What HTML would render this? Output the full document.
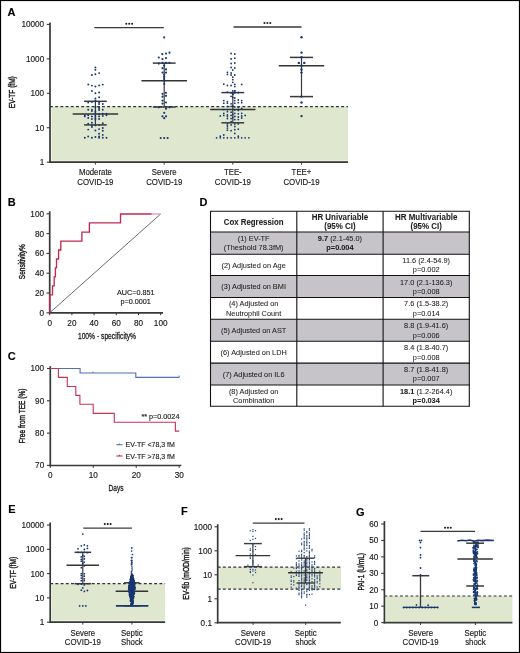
<!DOCTYPE html>
<html><head><meta charset="utf-8"><style>
html,body{margin:0;padding:0;background:#fff;width:520px;height:653px;overflow:hidden}
svg{display:block;font-family:"Liberation Sans", sans-serif;will-change:transform}
text{stroke:#1a1a1a;stroke-width:0.15px}
</style></head><body>
<svg width="520" height="653" viewBox="0 0 520 653" font-family='"Liberation Sans", sans-serif'>
<rect x="0.00" y="0.00" width="520.00" height="653.00" fill="#fff" />
<text x="7.60" y="16.32" font-size="11" text-anchor="start" font-weight="bold" fill="#000" >A</text>
<rect x="50.00" y="106.60" width="298.00" height="55.60" fill="#dfe7cf" />
<line x1="51.30" y1="107.40" x2="51.30" y2="161.20" stroke="#f0f8e0" stroke-width="0.9" />
<line x1="51.00" y1="160.90" x2="348.00" y2="160.90" stroke="#f0f8e0" stroke-width="0.9" />
<line x1="50.00" y1="106.60" x2="348.00" y2="106.60" stroke="#333" stroke-width="1.2" stroke-dasharray="2.9 2.3"/>
<line x1="46.80" y1="24.40" x2="50.00" y2="24.40" stroke="#383838" stroke-width="1.1" />
<text x="44.20" y="27.35" font-size="8.2" text-anchor="end" font-weight="normal" fill="#1a1a1a" >10000</text>
<line x1="46.80" y1="58.85" x2="50.00" y2="58.85" stroke="#383838" stroke-width="1.1" />
<text x="44.20" y="61.80" font-size="8.2" text-anchor="end" font-weight="normal" fill="#1a1a1a" >1000</text>
<line x1="46.80" y1="93.30" x2="50.00" y2="93.30" stroke="#383838" stroke-width="1.1" />
<text x="44.20" y="96.25" font-size="8.2" text-anchor="end" font-weight="normal" fill="#1a1a1a" >100</text>
<line x1="46.80" y1="127.75" x2="50.00" y2="127.75" stroke="#383838" stroke-width="1.1" />
<text x="44.20" y="130.70" font-size="8.2" text-anchor="end" font-weight="normal" fill="#1a1a1a" >10</text>
<line x1="46.80" y1="162.20" x2="50.00" y2="162.20" stroke="#383838" stroke-width="1.1" />
<text x="44.20" y="165.15" font-size="8.2" text-anchor="end" font-weight="normal" fill="#1a1a1a" >1</text>
<line x1="50.00" y1="22.60" x2="50.00" y2="163.00" stroke="#383838" stroke-width="1.7" />
<line x1="49.20" y1="162.20" x2="348.00" y2="162.20" stroke="#383838" stroke-width="1.7" />
<text transform="translate(15.48,92.20) rotate(-90) scale(0.72,1)" font-size="9.1" text-anchor="middle" fill="#1a1a1a" style="stroke-width:0.4px">EV-TF (fM)</text>
<line x1="95.40" y1="162.20" x2="95.40" y2="164.60" stroke="#383838" stroke-width="1.0" />
<line x1="164.20" y1="162.20" x2="164.20" y2="164.60" stroke="#383838" stroke-width="1.0" />
<line x1="232.80" y1="162.20" x2="232.80" y2="164.60" stroke="#383838" stroke-width="1.0" />
<line x1="301.50" y1="162.20" x2="301.50" y2="164.60" stroke="#383838" stroke-width="1.0" />
<text transform="translate(95.40,175.40) scale(0.91,1)" font-size="8.6" text-anchor="middle" font-weight="normal" fill="#1a1a1a">Moderate</text>
<text transform="translate(95.40,184.80) scale(0.91,1)" font-size="8.6" text-anchor="middle" font-weight="normal" fill="#1a1a1a">COVID-19</text>
<text transform="translate(164.20,175.40) scale(0.91,1)" font-size="8.6" text-anchor="middle" font-weight="normal" fill="#1a1a1a">Severe</text>
<text transform="translate(164.20,184.80) scale(0.91,1)" font-size="8.6" text-anchor="middle" font-weight="normal" fill="#1a1a1a">COVID-19</text>
<text transform="translate(232.80,175.40) scale(0.91,1)" font-size="8.6" text-anchor="middle" font-weight="normal" fill="#1a1a1a">TEE-</text>
<text transform="translate(232.80,184.80) scale(0.91,1)" font-size="8.6" text-anchor="middle" font-weight="normal" fill="#1a1a1a">COVID-19</text>
<text transform="translate(301.50,175.40) scale(0.91,1)" font-size="8.6" text-anchor="middle" font-weight="normal" fill="#1a1a1a">TEE+</text>
<text transform="translate(301.50,184.80) scale(0.91,1)" font-size="8.6" text-anchor="middle" font-weight="normal" fill="#1a1a1a">COVID-19</text>
<line x1="95.40" y1="101.30" x2="95.40" y2="124.90" stroke="#3a3a3a" stroke-width="1.2" />
<line x1="84.05" y1="101.30" x2="106.75" y2="101.30" stroke="#3a3a3a" stroke-width="1.5" />
<line x1="84.05" y1="124.90" x2="106.75" y2="124.90" stroke="#3a3a3a" stroke-width="1.5" />
<line x1="72.65" y1="114.10" x2="118.15" y2="114.10" stroke="#333" stroke-width="1.5" />
<line x1="164.20" y1="63.10" x2="164.20" y2="107.00" stroke="#3a3a3a" stroke-width="1.2" />
<line x1="152.80" y1="63.10" x2="175.60" y2="63.10" stroke="#3a3a3a" stroke-width="1.5" />
<line x1="152.80" y1="107.00" x2="175.60" y2="107.00" stroke="#3a3a3a" stroke-width="1.5" />
<line x1="141.45" y1="80.80" x2="186.95" y2="80.80" stroke="#333" stroke-width="1.5" />
<line x1="232.80" y1="92.60" x2="232.80" y2="122.80" stroke="#3a3a3a" stroke-width="1.2" />
<line x1="221.40" y1="92.60" x2="244.20" y2="92.60" stroke="#3a3a3a" stroke-width="1.5" />
<line x1="221.40" y1="122.80" x2="244.20" y2="122.80" stroke="#3a3a3a" stroke-width="1.5" />
<line x1="210.15" y1="109.60" x2="255.45" y2="109.60" stroke="#333" stroke-width="1.5" />
<line x1="301.50" y1="57.40" x2="301.50" y2="96.60" stroke="#3a3a3a" stroke-width="1.2" />
<line x1="290.00" y1="57.40" x2="313.00" y2="57.40" stroke="#3a3a3a" stroke-width="1.5" />
<line x1="290.00" y1="96.60" x2="313.00" y2="96.60" stroke="#3a3a3a" stroke-width="1.5" />
<line x1="278.80" y1="65.80" x2="324.20" y2="65.80" stroke="#333" stroke-width="1.5" />
<circle cx="95.40" cy="67.40" r="0.95" fill="#183670"/>
<circle cx="95.40" cy="69.80" r="0.95" fill="#183670"/>
<circle cx="91.90" cy="75.00" r="0.95" fill="#183670"/>
<circle cx="95.40" cy="74.30" r="0.95" fill="#183670"/>
<circle cx="99.10" cy="73.10" r="0.95" fill="#183670"/>
<circle cx="88.30" cy="84.40" r="0.95" fill="#183670"/>
<circle cx="91.90" cy="85.60" r="0.95" fill="#183670"/>
<circle cx="95.40" cy="86.50" r="0.95" fill="#183670"/>
<circle cx="99.10" cy="85.40" r="0.95" fill="#183670"/>
<circle cx="102.80" cy="84.60" r="0.95" fill="#183670"/>
<circle cx="91.90" cy="91.00" r="0.95" fill="#183670"/>
<circle cx="95.40" cy="93.30" r="0.95" fill="#183670"/>
<circle cx="99.10" cy="92.50" r="0.95" fill="#183670"/>
<circle cx="99.10" cy="97.20" r="0.95" fill="#183670"/>
<circle cx="95.40" cy="98.40" r="0.95" fill="#183670"/>
<circle cx="88.20" cy="102.60" r="0.95" fill="#183670"/>
<circle cx="91.90" cy="102.10" r="0.95" fill="#183670"/>
<circle cx="95.40" cy="100.50" r="0.95" fill="#183670"/>
<circle cx="99.10" cy="102.30" r="0.95" fill="#183670"/>
<circle cx="99.10" cy="104.00" r="0.95" fill="#183670"/>
<circle cx="102.80" cy="104.00" r="0.95" fill="#183670"/>
<circle cx="95.40" cy="106.90" r="0.95" fill="#183670"/>
<circle cx="99.10" cy="106.90" r="0.95" fill="#183670"/>
<circle cx="88.20" cy="109.70" r="0.95" fill="#183670"/>
<circle cx="91.90" cy="109.70" r="0.95" fill="#183670"/>
<circle cx="91.90" cy="111.10" r="0.95" fill="#183670"/>
<circle cx="95.40" cy="111.10" r="0.95" fill="#183670"/>
<circle cx="99.10" cy="108.30" r="0.95" fill="#183670"/>
<circle cx="99.10" cy="110.00" r="0.95" fill="#183670"/>
<circle cx="102.80" cy="109.70" r="0.95" fill="#183670"/>
<circle cx="84.80" cy="115.30" r="0.95" fill="#183670"/>
<circle cx="84.80" cy="116.40" r="0.95" fill="#183670"/>
<circle cx="88.20" cy="115.30" r="0.95" fill="#183670"/>
<circle cx="88.20" cy="118.00" r="0.95" fill="#183670"/>
<circle cx="91.90" cy="116.40" r="0.95" fill="#183670"/>
<circle cx="91.90" cy="119.00" r="0.95" fill="#183670"/>
<circle cx="95.40" cy="113.20" r="0.95" fill="#183670"/>
<circle cx="95.40" cy="115.90" r="0.95" fill="#183670"/>
<circle cx="95.40" cy="118.00" r="0.95" fill="#183670"/>
<circle cx="95.40" cy="119.60" r="0.95" fill="#183670"/>
<circle cx="99.10" cy="114.30" r="0.95" fill="#183670"/>
<circle cx="99.10" cy="116.40" r="0.95" fill="#183670"/>
<circle cx="99.10" cy="119.00" r="0.95" fill="#183670"/>
<circle cx="102.80" cy="113.80" r="0.95" fill="#183670"/>
<circle cx="102.80" cy="115.90" r="0.95" fill="#183670"/>
<circle cx="106.50" cy="113.80" r="0.95" fill="#183670"/>
<circle cx="106.50" cy="115.30" r="0.95" fill="#183670"/>
<circle cx="88.20" cy="123.80" r="0.95" fill="#183670"/>
<circle cx="91.90" cy="122.80" r="0.95" fill="#183670"/>
<circle cx="91.90" cy="125.40" r="0.95" fill="#183670"/>
<circle cx="91.90" cy="127.00" r="0.95" fill="#183670"/>
<circle cx="95.40" cy="125.40" r="0.95" fill="#183670"/>
<circle cx="99.10" cy="124.90" r="0.95" fill="#183670"/>
<circle cx="102.80" cy="123.30" r="0.95" fill="#183670"/>
<circle cx="88.20" cy="129.60" r="0.95" fill="#183670"/>
<circle cx="95.40" cy="130.50" r="0.95" fill="#183670"/>
<circle cx="99.10" cy="129.10" r="0.95" fill="#183670"/>
<circle cx="102.80" cy="128.00" r="0.95" fill="#183670"/>
<circle cx="102.80" cy="130.70" r="0.95" fill="#183670"/>
<circle cx="99.10" cy="133.70" r="0.95" fill="#183670"/>
<circle cx="102.80" cy="134.90" r="0.95" fill="#183670"/>
<circle cx="84.80" cy="137.80" r="0.95" fill="#183670"/>
<circle cx="88.20" cy="136.50" r="0.95" fill="#183670"/>
<circle cx="91.90" cy="137.80" r="0.95" fill="#183670"/>
<circle cx="95.40" cy="137.00" r="0.95" fill="#183670"/>
<circle cx="99.10" cy="136.50" r="0.95" fill="#183670"/>
<circle cx="99.10" cy="137.80" r="0.95" fill="#183670"/>
<circle cx="102.80" cy="137.80" r="0.95" fill="#183670"/>
<circle cx="106.50" cy="137.80" r="0.95" fill="#183670"/>
<circle cx="164.20" cy="37.40" r="1.08" fill="#183670"/>
<circle cx="162.30" cy="54.10" r="1.08" fill="#183670"/>
<circle cx="166.00" cy="53.60" r="1.08" fill="#183670"/>
<circle cx="169.50" cy="52.70" r="1.08" fill="#183670"/>
<circle cx="158.80" cy="57.50" r="1.08" fill="#183670"/>
<circle cx="162.50" cy="59.10" r="1.08" fill="#183670"/>
<circle cx="166.00" cy="58.10" r="1.08" fill="#183670"/>
<circle cx="158.80" cy="63.60" r="1.08" fill="#183670"/>
<circle cx="162.50" cy="62.90" r="1.08" fill="#183670"/>
<circle cx="166.00" cy="62.90" r="1.08" fill="#183670"/>
<circle cx="169.50" cy="62.90" r="1.08" fill="#183670"/>
<circle cx="164.20" cy="65.70" r="1.08" fill="#183670"/>
<circle cx="162.50" cy="68.20" r="1.08" fill="#183670"/>
<circle cx="166.00" cy="69.40" r="1.08" fill="#183670"/>
<circle cx="162.50" cy="72.60" r="1.08" fill="#183670"/>
<circle cx="166.00" cy="72.60" r="1.08" fill="#183670"/>
<circle cx="164.20" cy="74.70" r="1.08" fill="#183670"/>
<circle cx="164.20" cy="76.90" r="1.08" fill="#183670"/>
<circle cx="164.20" cy="79.00" r="1.08" fill="#183670"/>
<circle cx="164.20" cy="80.80" r="1.08" fill="#183670"/>
<circle cx="164.20" cy="84.00" r="1.08" fill="#183670"/>
<circle cx="162.50" cy="93.80" r="1.08" fill="#183670"/>
<circle cx="166.00" cy="92.80" r="1.08" fill="#183670"/>
<circle cx="162.50" cy="96.70" r="1.08" fill="#183670"/>
<circle cx="166.00" cy="95.80" r="1.08" fill="#183670"/>
<circle cx="162.50" cy="100.60" r="1.08" fill="#183670"/>
<circle cx="162.50" cy="103.60" r="1.08" fill="#183670"/>
<circle cx="166.00" cy="102.50" r="1.08" fill="#183670"/>
<circle cx="158.80" cy="107.30" r="1.08" fill="#183670"/>
<circle cx="166.00" cy="108.70" r="1.08" fill="#183670"/>
<circle cx="169.50" cy="107.30" r="1.08" fill="#183670"/>
<circle cx="164.20" cy="112.80" r="1.08" fill="#183670"/>
<circle cx="162.50" cy="116.30" r="1.08" fill="#183670"/>
<circle cx="166.00" cy="116.30" r="1.08" fill="#183670"/>
<circle cx="164.20" cy="118.20" r="1.08" fill="#183670"/>
<circle cx="160.70" cy="138.00" r="1.08" fill="#183670"/>
<circle cx="164.20" cy="138.00" r="1.08" fill="#183670"/>
<circle cx="167.60" cy="138.00" r="1.08" fill="#183670"/>
<circle cx="231.10" cy="53.50" r="0.88" fill="#183670"/>
<circle cx="234.80" cy="54.00" r="0.88" fill="#183670"/>
<circle cx="231.10" cy="59.00" r="0.88" fill="#183670"/>
<circle cx="234.80" cy="58.20" r="0.88" fill="#183670"/>
<circle cx="231.10" cy="63.50" r="0.88" fill="#183670"/>
<circle cx="234.80" cy="63.00" r="0.88" fill="#183670"/>
<circle cx="231.10" cy="67.50" r="0.88" fill="#183670"/>
<circle cx="234.80" cy="68.00" r="0.88" fill="#183670"/>
<circle cx="232.80" cy="70.00" r="0.88" fill="#183670"/>
<circle cx="227.40" cy="72.30" r="0.88" fill="#183670"/>
<circle cx="227.40" cy="74.40" r="0.88" fill="#183670"/>
<circle cx="231.10" cy="73.00" r="0.88" fill="#183670"/>
<circle cx="231.10" cy="75.00" r="0.88" fill="#183670"/>
<circle cx="234.80" cy="75.00" r="0.88" fill="#183670"/>
<circle cx="232.80" cy="77.20" r="0.88" fill="#183670"/>
<circle cx="232.80" cy="79.70" r="0.88" fill="#183670"/>
<circle cx="232.80" cy="82.30" r="0.88" fill="#183670"/>
<circle cx="223.80" cy="84.20" r="0.88" fill="#183670"/>
<circle cx="227.40" cy="85.50" r="0.88" fill="#183670"/>
<circle cx="231.10" cy="85.50" r="0.88" fill="#183670"/>
<circle cx="234.80" cy="84.40" r="0.88" fill="#183670"/>
<circle cx="234.80" cy="86.60" r="0.88" fill="#183670"/>
<circle cx="241.70" cy="84.40" r="0.88" fill="#183670"/>
<circle cx="234.80" cy="90.80" r="0.88" fill="#183670"/>
<circle cx="227.40" cy="92.20" r="0.88" fill="#183670"/>
<circle cx="231.10" cy="92.90" r="0.88" fill="#183670"/>
<circle cx="232.80" cy="94.00" r="0.88" fill="#183670"/>
<circle cx="234.80" cy="92.90" r="0.88" fill="#183670"/>
<circle cx="238.30" cy="92.60" r="0.88" fill="#183670"/>
<circle cx="216.60" cy="137.80" r="0.88" fill="#183670"/>
<circle cx="220.30" cy="137.80" r="0.88" fill="#183670"/>
<circle cx="223.80" cy="137.80" r="0.88" fill="#183670"/>
<circle cx="227.40" cy="137.80" r="0.88" fill="#183670"/>
<circle cx="231.10" cy="137.80" r="0.88" fill="#183670"/>
<circle cx="234.80" cy="137.80" r="0.88" fill="#183670"/>
<circle cx="238.30" cy="137.80" r="0.88" fill="#183670"/>
<circle cx="241.70" cy="137.80" r="0.88" fill="#183670"/>
<circle cx="245.20" cy="137.80" r="0.88" fill="#183670"/>
<circle cx="248.90" cy="137.80" r="0.88" fill="#183670"/>
<circle cx="220.30" cy="136.20" r="0.88" fill="#183670"/>
<circle cx="223.80" cy="135.00" r="0.88" fill="#183670"/>
<circle cx="238.30" cy="136.20" r="0.88" fill="#183670"/>
<circle cx="223.80" cy="100.60" r="0.88" fill="#183670"/>
<circle cx="223.80" cy="103.20" r="0.88" fill="#183670"/>
<circle cx="223.80" cy="109.60" r="0.88" fill="#183670"/>
<circle cx="223.80" cy="113.30" r="0.88" fill="#183670"/>
<circle cx="223.80" cy="115.40" r="0.88" fill="#183670"/>
<circle cx="227.40" cy="101.60" r="0.88" fill="#183670"/>
<circle cx="227.40" cy="103.20" r="0.88" fill="#183670"/>
<circle cx="227.40" cy="106.40" r="0.88" fill="#183670"/>
<circle cx="227.40" cy="109.60" r="0.88" fill="#183670"/>
<circle cx="227.40" cy="111.70" r="0.88" fill="#183670"/>
<circle cx="227.40" cy="114.90" r="0.88" fill="#183670"/>
<circle cx="227.40" cy="116.50" r="0.88" fill="#183670"/>
<circle cx="227.40" cy="118.60" r="0.88" fill="#183670"/>
<circle cx="227.40" cy="123.90" r="0.88" fill="#183670"/>
<circle cx="227.40" cy="126.00" r="0.88" fill="#183670"/>
<circle cx="227.40" cy="128.10" r="0.88" fill="#183670"/>
<circle cx="227.40" cy="130.20" r="0.88" fill="#183670"/>
<circle cx="231.10" cy="96.30" r="0.88" fill="#183670"/>
<circle cx="231.10" cy="103.80" r="0.88" fill="#183670"/>
<circle cx="231.10" cy="106.40" r="0.88" fill="#183670"/>
<circle cx="231.10" cy="112.20" r="0.88" fill="#183670"/>
<circle cx="231.10" cy="115.40" r="0.88" fill="#183670"/>
<circle cx="231.10" cy="118.60" r="0.88" fill="#183670"/>
<circle cx="231.10" cy="121.70" r="0.88" fill="#183670"/>
<circle cx="231.10" cy="124.90" r="0.88" fill="#183670"/>
<circle cx="231.10" cy="130.70" r="0.88" fill="#183670"/>
<circle cx="232.80" cy="91.00" r="0.88" fill="#183670"/>
<circle cx="232.80" cy="94.20" r="0.88" fill="#183670"/>
<circle cx="232.80" cy="97.40" r="0.88" fill="#183670"/>
<circle cx="232.80" cy="105.90" r="0.88" fill="#183670"/>
<circle cx="232.80" cy="114.30" r="0.88" fill="#183670"/>
<circle cx="232.80" cy="117.50" r="0.88" fill="#183670"/>
<circle cx="234.80" cy="91.00" r="0.88" fill="#183670"/>
<circle cx="234.80" cy="98.00" r="0.88" fill="#183670"/>
<circle cx="234.80" cy="100.60" r="0.88" fill="#183670"/>
<circle cx="234.80" cy="103.20" r="0.88" fill="#183670"/>
<circle cx="234.80" cy="106.90" r="0.88" fill="#183670"/>
<circle cx="234.80" cy="110.10" r="0.88" fill="#183670"/>
<circle cx="234.80" cy="113.30" r="0.88" fill="#183670"/>
<circle cx="234.80" cy="116.50" r="0.88" fill="#183670"/>
<circle cx="234.80" cy="119.60" r="0.88" fill="#183670"/>
<circle cx="234.80" cy="123.90" r="0.88" fill="#183670"/>
<circle cx="234.80" cy="126.50" r="0.88" fill="#183670"/>
<circle cx="234.80" cy="129.70" r="0.88" fill="#183670"/>
<circle cx="234.80" cy="133.40" r="0.88" fill="#183670"/>
<circle cx="238.30" cy="92.60" r="0.88" fill="#183670"/>
<circle cx="238.30" cy="100.00" r="0.88" fill="#183670"/>
<circle cx="238.30" cy="102.70" r="0.88" fill="#183670"/>
<circle cx="238.30" cy="107.50" r="0.88" fill="#183670"/>
<circle cx="238.30" cy="110.60" r="0.88" fill="#183670"/>
<circle cx="238.30" cy="113.80" r="0.88" fill="#183670"/>
<circle cx="238.30" cy="117.00" r="0.88" fill="#183670"/>
<circle cx="238.30" cy="119.60" r="0.88" fill="#183670"/>
<circle cx="238.30" cy="123.90" r="0.88" fill="#183670"/>
<circle cx="238.30" cy="129.20" r="0.88" fill="#183670"/>
<circle cx="241.70" cy="100.60" r="0.88" fill="#183670"/>
<circle cx="241.70" cy="102.70" r="0.88" fill="#183670"/>
<circle cx="241.70" cy="108.50" r="0.88" fill="#183670"/>
<circle cx="241.70" cy="113.30" r="0.88" fill="#183670"/>
<circle cx="241.70" cy="116.00" r="0.88" fill="#183670"/>
<circle cx="241.70" cy="118.00" r="0.88" fill="#183670"/>
<circle cx="245.20" cy="115.40" r="0.88" fill="#183670"/>
<circle cx="220.30" cy="115.90" r="0.88" fill="#183670"/>
<circle cx="301.50" cy="37.20" r="1.2" fill="#183670"/>
<circle cx="301.50" cy="52.60" r="1.2" fill="#183670"/>
<circle cx="301.50" cy="57.20" r="1.2" fill="#183670"/>
<circle cx="298.80" cy="62.90" r="1.2" fill="#183670"/>
<circle cx="304.30" cy="62.90" r="1.2" fill="#183670"/>
<circle cx="301.50" cy="65.80" r="1.2" fill="#183670"/>
<circle cx="301.50" cy="69.40" r="1.2" fill="#183670"/>
<circle cx="301.50" cy="72.60" r="1.2" fill="#183670"/>
<circle cx="301.50" cy="96.60" r="1.2" fill="#183670"/>
<circle cx="301.50" cy="102.50" r="1.2" fill="#183670"/>
<circle cx="301.50" cy="116.10" r="1.2" fill="#183670"/>
<line x1="94.30" y1="27.60" x2="163.80" y2="27.60" stroke="#3a3a3a" stroke-width="1.3" />
<circle cx="126.30" cy="23.80" r="1.05" fill="#222"/>
<circle cx="129.20" cy="23.80" r="1.05" fill="#222"/>
<circle cx="132.10" cy="23.80" r="1.05" fill="#222"/>
<line x1="233.50" y1="27.00" x2="301.50" y2="27.00" stroke="#3a3a3a" stroke-width="1.3" />
<circle cx="264.50" cy="23.00" r="1.05" fill="#222"/>
<circle cx="267.40" cy="23.00" r="1.05" fill="#222"/>
<circle cx="270.30" cy="23.00" r="1.05" fill="#222"/>
<text x="7.70" y="205.72" font-size="11" text-anchor="start" font-weight="bold" fill="#000" >B</text>
<line x1="46.50" y1="312.80" x2="49.70" y2="312.80" stroke="#383838" stroke-width="1.1" />
<text x="44.00" y="315.75" font-size="8.2" text-anchor="end" font-weight="normal" fill="#1a1a1a" >0</text>
<line x1="49.70" y1="312.80" x2="49.70" y2="315.20" stroke="#383838" stroke-width="1.0" />
<text x="49.70" y="326.25" font-size="8.2" text-anchor="middle" font-weight="normal" fill="#1a1a1a" >0</text>
<line x1="46.50" y1="293.00" x2="49.70" y2="293.00" stroke="#383838" stroke-width="1.1" />
<text x="44.00" y="295.95" font-size="8.2" text-anchor="end" font-weight="normal" fill="#1a1a1a" >20</text>
<line x1="71.90" y1="312.80" x2="71.90" y2="315.20" stroke="#383838" stroke-width="1.0" />
<text x="71.90" y="326.25" font-size="8.2" text-anchor="middle" font-weight="normal" fill="#1a1a1a" >20</text>
<line x1="46.50" y1="273.20" x2="49.70" y2="273.20" stroke="#383838" stroke-width="1.1" />
<text x="44.00" y="276.15" font-size="8.2" text-anchor="end" font-weight="normal" fill="#1a1a1a" >40</text>
<line x1="94.10" y1="312.80" x2="94.10" y2="315.20" stroke="#383838" stroke-width="1.0" />
<text x="94.10" y="326.25" font-size="8.2" text-anchor="middle" font-weight="normal" fill="#1a1a1a" >40</text>
<line x1="46.50" y1="253.40" x2="49.70" y2="253.40" stroke="#383838" stroke-width="1.1" />
<text x="44.00" y="256.35" font-size="8.2" text-anchor="end" font-weight="normal" fill="#1a1a1a" >60</text>
<line x1="116.30" y1="312.80" x2="116.30" y2="315.20" stroke="#383838" stroke-width="1.0" />
<text x="116.30" y="326.25" font-size="8.2" text-anchor="middle" font-weight="normal" fill="#1a1a1a" >60</text>
<line x1="46.50" y1="233.60" x2="49.70" y2="233.60" stroke="#383838" stroke-width="1.1" />
<text x="44.00" y="236.55" font-size="8.2" text-anchor="end" font-weight="normal" fill="#1a1a1a" >80</text>
<line x1="138.50" y1="312.80" x2="138.50" y2="315.20" stroke="#383838" stroke-width="1.0" />
<text x="138.50" y="326.25" font-size="8.2" text-anchor="middle" font-weight="normal" fill="#1a1a1a" >80</text>
<line x1="46.50" y1="213.80" x2="49.70" y2="213.80" stroke="#383838" stroke-width="1.1" />
<text x="44.00" y="216.75" font-size="8.2" text-anchor="end" font-weight="normal" fill="#1a1a1a" >100</text>
<line x1="160.70" y1="312.80" x2="160.70" y2="315.20" stroke="#383838" stroke-width="1.0" />
<text x="160.70" y="326.25" font-size="8.2" text-anchor="middle" font-weight="normal" fill="#1a1a1a" >100</text>
<line x1="49.70" y1="211.30" x2="49.70" y2="313.60" stroke="#383838" stroke-width="1.7" />
<line x1="48.90" y1="312.80" x2="163.00" y2="312.80" stroke="#383838" stroke-width="1.7" />
<text transform="translate(24.74,261.70) rotate(-90) scale(0.72,1)" font-size="9.0" text-anchor="middle" fill="#1a1a1a" style="stroke-width:0.4px">Sensitivity%</text>
<text transform="translate(107.00,339.31) scale(0.73,1)" font-size="9.2" text-anchor="middle" font-weight="normal" fill="#1a1a1a" style="stroke-width:0.28px">100% - specificity%</text>
<line x1="49.70" y1="312.80" x2="160.60" y2="214.00" stroke="#444" stroke-width="0.8" />
<polyline fill="none" stroke="#c02a52" stroke-width="1.35" points="49.8,312.7 49.8,294.8 52.5,294.8 52.5,285.9 54.2,285.9 54.2,276.9 55.4,276.9 55.4,267.9 56.5,267.9 56.5,259 58.6,259 58.6,250 60.8,250 60.8,241.1 81.9,241.1 81.9,232.1 89.4,232.1 89.4,222.9 120.5,222.9 120.5,214 151.8,214"/>
<line x1="151.80" y1="214.00" x2="160.60" y2="214.00" stroke="#e0a0b0" stroke-width="1.35" />
<text transform="translate(135.70,294.81) scale(0.93,1)" font-size="7.8" text-anchor="middle" font-weight="normal" fill="#1a1a1a">AUC=0.851</text>
<text transform="translate(135.70,303.61) scale(0.93,1)" font-size="7.8" text-anchor="middle" font-weight="normal" fill="#1a1a1a">p=0.0001</text>
<text x="7.70" y="360.32" font-size="11" text-anchor="start" font-weight="bold" fill="#000" >C</text>
<line x1="47.00" y1="368.50" x2="50.30" y2="368.50" stroke="#383838" stroke-width="1.1" />
<text x="44.20" y="371.45" font-size="8.2" text-anchor="end" font-weight="normal" fill="#1a1a1a" >100</text>
<line x1="47.00" y1="400.80" x2="50.30" y2="400.80" stroke="#383838" stroke-width="1.1" />
<text x="44.20" y="403.75" font-size="8.2" text-anchor="end" font-weight="normal" fill="#1a1a1a" >90</text>
<line x1="47.00" y1="433.10" x2="50.30" y2="433.10" stroke="#383838" stroke-width="1.1" />
<text x="44.20" y="436.05" font-size="8.2" text-anchor="end" font-weight="normal" fill="#1a1a1a" >80</text>
<line x1="47.00" y1="465.40" x2="50.30" y2="465.40" stroke="#383838" stroke-width="1.1" />
<text x="44.20" y="468.35" font-size="8.2" text-anchor="end" font-weight="normal" fill="#1a1a1a" >70</text>
<line x1="50.30" y1="465.50" x2="50.30" y2="467.90" stroke="#383838" stroke-width="1.0" />
<text x="50.30" y="478.35" font-size="8.2" text-anchor="middle" font-weight="normal" fill="#1a1a1a" >0</text>
<line x1="93.26" y1="465.50" x2="93.26" y2="467.90" stroke="#383838" stroke-width="1.0" />
<text x="93.26" y="478.35" font-size="8.2" text-anchor="middle" font-weight="normal" fill="#1a1a1a" >10</text>
<line x1="136.22" y1="465.50" x2="136.22" y2="467.90" stroke="#383838" stroke-width="1.0" />
<text x="136.22" y="478.35" font-size="8.2" text-anchor="middle" font-weight="normal" fill="#1a1a1a" >20</text>
<line x1="179.18" y1="465.50" x2="179.18" y2="467.90" stroke="#383838" stroke-width="1.0" />
<text x="179.18" y="478.35" font-size="8.2" text-anchor="middle" font-weight="normal" fill="#1a1a1a" >30</text>
<line x1="50.30" y1="366.20" x2="50.30" y2="466.30" stroke="#383838" stroke-width="1.7" />
<line x1="49.50" y1="465.50" x2="181.30" y2="465.50" stroke="#383838" stroke-width="1.7" />
<text transform="translate(24.97,416.00) rotate(-90) scale(0.745,1)" font-size="8.8" text-anchor="middle" fill="#1a1a1a" style="stroke-width:0.4px">Free from TEE (%)</text>
<text transform="translate(116.00,490.74) scale(0.73,1)" font-size="9.0" text-anchor="middle" font-weight="normal" fill="#1a1a1a" style="stroke-width:0.28px">Days</text>
<polyline fill="none" stroke="#5070b0" stroke-width="1.1" points="50.4,368.5 80.1,368.5 80.1,373 135.8,373 135.8,377.4 179.2,377.4"/>
<line x1="179.20" y1="375.60" x2="179.20" y2="377.40" stroke="#5070b0" stroke-width="1.0" />
<line x1="93.00" y1="371.60" x2="93.00" y2="373.00" stroke="#5070b0" stroke-width="1.0" />
<polyline fill="none" stroke="#c43358" stroke-width="1.1" points="50.4,368.5 58.4,368.5 58.4,377.4 67.3,377.4 67.3,386.5 75.8,386.5 75.8,395.4 79.9,395.4 79.9,404.3 93.2,404.3 93.2,413.4 114.3,413.4 114.3,422.3 175.4,422.3 175.4,431.1 179.2,431.1"/>
<text transform="translate(160.40,419.01) scale(0.93,1)" font-size="7.8" text-anchor="middle" font-weight="normal" fill="#1a1a1a">** p=0.0024</text>
<line x1="116.40" y1="444.70" x2="122.50" y2="444.70" stroke="#5070b0" stroke-width="1.1" />
<line x1="119.40" y1="443.40" x2="119.40" y2="444.70" stroke="#5070b0" stroke-width="0.9" />
<line x1="116.40" y1="456.00" x2="122.50" y2="456.00" stroke="#c02a52" stroke-width="1.1" />
<line x1="119.40" y1="454.70" x2="119.40" y2="456.00" stroke="#c02a52" stroke-width="0.9" />
<text transform="translate(125.60,447.31) scale(0.9,1)" font-size="7.8" text-anchor="start" font-weight="normal" fill="#1a1a1a">EV-TF &lt;78,3 fM</text>
<text transform="translate(125.60,458.71) scale(0.9,1)" font-size="7.8" text-anchor="start" font-weight="normal" fill="#1a1a1a">EV-TF &gt;78,3 fM</text>
<text x="199.50" y="205.52" font-size="11" text-anchor="start" font-weight="bold" fill="#000" >D</text>
<rect x="210.50" y="232.00" width="258.80" height="22.25" fill="#c6c4c9" />
<rect x="210.50" y="275.50" width="258.80" height="22.00" fill="#c6c4c9" />
<rect x="210.50" y="319.25" width="258.80" height="22.00" fill="#c6c4c9" />
<rect x="210.50" y="363.10" width="258.80" height="21.90" fill="#c6c4c9" />
<line x1="210.00" y1="211.30" x2="469.80" y2="211.30" stroke="#111" stroke-width="1.1" />
<line x1="210.00" y1="232.00" x2="469.80" y2="232.00" stroke="#111" stroke-width="1.1" />
<line x1="210.00" y1="254.25" x2="469.80" y2="254.25" stroke="#111" stroke-width="1.1" />
<line x1="210.00" y1="275.50" x2="469.80" y2="275.50" stroke="#111" stroke-width="1.1" />
<line x1="210.00" y1="297.50" x2="469.80" y2="297.50" stroke="#111" stroke-width="1.1" />
<line x1="210.00" y1="319.25" x2="469.80" y2="319.25" stroke="#111" stroke-width="1.1" />
<line x1="210.00" y1="341.25" x2="469.80" y2="341.25" stroke="#111" stroke-width="1.1" />
<line x1="210.00" y1="363.10" x2="469.80" y2="363.10" stroke="#111" stroke-width="1.1" />
<line x1="210.00" y1="385.00" x2="469.80" y2="385.00" stroke="#111" stroke-width="1.1" />
<line x1="210.00" y1="406.30" x2="469.80" y2="406.30" stroke="#111" stroke-width="1.1" />
<line x1="210.50" y1="211.30" x2="210.50" y2="406.30" stroke="#111" stroke-width="1.1" />
<line x1="296.80" y1="211.30" x2="296.80" y2="406.30" stroke="#111" stroke-width="1.1" />
<line x1="383.10" y1="211.30" x2="383.10" y2="406.30" stroke="#111" stroke-width="1.1" />
<line x1="469.30" y1="211.30" x2="469.30" y2="406.30" stroke="#111" stroke-width="1.1" />
<text transform="translate(253.65,224.70) scale(0.96,1)" font-size="8.2" text-anchor="middle" fill="#1e1e1e" style="stroke-width:0.06px"><tspan font-weight="bold">Cox Regression</tspan></text>
<text transform="translate(339.95,219.99) scale(0.96,1)" font-size="8.3" text-anchor="middle" fill="#1e1e1e" style="stroke-width:0.06px"><tspan font-weight="bold">HR Univariable</tspan></text>
<text transform="translate(339.95,229.24) scale(0.96,1)" font-size="8.3" text-anchor="middle" fill="#1e1e1e" style="stroke-width:0.06px"><tspan font-weight="bold">(95% CI)</tspan></text>
<text transform="translate(426.20,219.99) scale(0.96,1)" font-size="8.3" text-anchor="middle" fill="#1e1e1e" style="stroke-width:0.06px"><tspan font-weight="bold">HR Multivariable</tspan></text>
<text transform="translate(426.20,229.24) scale(0.96,1)" font-size="8.3" text-anchor="middle" fill="#1e1e1e" style="stroke-width:0.06px"><tspan font-weight="bold">(95% CI)</tspan></text>
<text transform="translate(253.65,241.24) scale(0.97,1)" font-size="7.6" text-anchor="middle" fill="#1e1e1e" style="stroke-width:0.06px"><tspan font-weight="normal">(1) EV-TF</tspan></text>
<text transform="translate(253.65,250.49) scale(0.97,1)" font-size="7.6" text-anchor="middle" fill="#1e1e1e" style="stroke-width:0.06px"><tspan font-weight="normal">(Theshold 78.3fM)</tspan></text>
<text transform="translate(253.65,267.61) scale(0.97,1)" font-size="7.6" text-anchor="middle" fill="#1e1e1e" style="stroke-width:0.06px"><tspan font-weight="normal">(2) Adjusted on Age</tspan></text>
<text transform="translate(426.20,262.99) scale(0.97,1)" font-size="7.6" text-anchor="middle" fill="#1e1e1e" style="stroke-width:0.06px"><tspan font-weight="normal">11.6 (2.4-54.9)</tspan></text>
<text transform="translate(426.20,272.24) scale(0.97,1)" font-size="7.6" text-anchor="middle" fill="#1e1e1e" style="stroke-width:0.06px"><tspan font-weight="normal">p=0.002</tspan></text>
<text transform="translate(253.65,289.24) scale(0.97,1)" font-size="7.6" text-anchor="middle" fill="#1e1e1e" style="stroke-width:0.06px"><tspan font-weight="normal">(3) Adjusted on BMI</tspan></text>
<text transform="translate(426.20,284.61) scale(0.97,1)" font-size="7.6" text-anchor="middle" fill="#1e1e1e" style="stroke-width:0.06px"><tspan font-weight="normal">17.0 (2.1-136.3)</tspan></text>
<text transform="translate(426.20,293.86) scale(0.97,1)" font-size="7.6" text-anchor="middle" fill="#1e1e1e" style="stroke-width:0.06px"><tspan font-weight="normal">p=0.008</tspan></text>
<text transform="translate(253.65,306.49) scale(0.97,1)" font-size="7.6" text-anchor="middle" fill="#1e1e1e" style="stroke-width:0.06px"><tspan font-weight="normal">(4) Adjusted on</tspan></text>
<text transform="translate(253.65,315.74) scale(0.97,1)" font-size="7.6" text-anchor="middle" fill="#1e1e1e" style="stroke-width:0.06px"><tspan font-weight="normal">Neutrophil Count</tspan></text>
<text transform="translate(426.20,306.49) scale(0.97,1)" font-size="7.6" text-anchor="middle" fill="#1e1e1e" style="stroke-width:0.06px"><tspan font-weight="normal">7.6 (1.5-38.2)</tspan></text>
<text transform="translate(426.20,315.74) scale(0.97,1)" font-size="7.6" text-anchor="middle" fill="#1e1e1e" style="stroke-width:0.06px"><tspan font-weight="normal">p=0.014</tspan></text>
<text transform="translate(253.65,332.99) scale(0.97,1)" font-size="7.6" text-anchor="middle" fill="#1e1e1e" style="stroke-width:0.06px"><tspan font-weight="normal">(5) Adjusted on AST</tspan></text>
<text transform="translate(426.20,328.36) scale(0.97,1)" font-size="7.6" text-anchor="middle" fill="#1e1e1e" style="stroke-width:0.06px"><tspan font-weight="normal">8.8 (1.9-41.6)</tspan></text>
<text transform="translate(426.20,337.61) scale(0.97,1)" font-size="7.6" text-anchor="middle" fill="#1e1e1e" style="stroke-width:0.06px"><tspan font-weight="normal">p=0.006</tspan></text>
<text transform="translate(253.65,354.91) scale(0.97,1)" font-size="7.6" text-anchor="middle" fill="#1e1e1e" style="stroke-width:0.06px"><tspan font-weight="normal">(6) Adjusted on LDH</tspan></text>
<text transform="translate(426.20,350.29) scale(0.97,1)" font-size="7.6" text-anchor="middle" fill="#1e1e1e" style="stroke-width:0.06px"><tspan font-weight="normal">8.4 (1.8-40.7)</tspan></text>
<text transform="translate(426.20,359.54) scale(0.97,1)" font-size="7.6" text-anchor="middle" fill="#1e1e1e" style="stroke-width:0.06px"><tspan font-weight="normal">p=0.008</tspan></text>
<text transform="translate(253.65,376.79) scale(0.97,1)" font-size="7.6" text-anchor="middle" fill="#1e1e1e" style="stroke-width:0.06px"><tspan font-weight="normal">(7) Adjusted on IL6</tspan></text>
<text transform="translate(426.20,372.16) scale(0.97,1)" font-size="7.6" text-anchor="middle" fill="#1e1e1e" style="stroke-width:0.06px"><tspan font-weight="normal">8.7 (1.8-41.8)</tspan></text>
<text transform="translate(426.20,381.41) scale(0.97,1)" font-size="7.6" text-anchor="middle" fill="#1e1e1e" style="stroke-width:0.06px"><tspan font-weight="normal">p=0.007</tspan></text>
<text transform="translate(253.65,393.76) scale(0.97,1)" font-size="7.6" text-anchor="middle" fill="#1e1e1e" style="stroke-width:0.06px"><tspan font-weight="normal">(8) Adjusted on</tspan></text>
<text transform="translate(253.65,403.01) scale(0.97,1)" font-size="7.6" text-anchor="middle" fill="#1e1e1e" style="stroke-width:0.06px"><tspan font-weight="normal">Combination</tspan></text>
<text transform="translate(426.20,393.76) scale(0.97,1)" font-size="7.6" text-anchor="middle" fill="#1e1e1e" style="stroke-width:0.06px"><tspan font-weight="bold">18.1</tspan><tspan font-weight="normal"> (1.2-264.4)</tspan></text>
<text transform="translate(426.20,403.01) scale(0.97,1)" font-size="7.6" text-anchor="middle" fill="#1e1e1e" style="stroke-width:0.06px"><tspan font-weight="bold">p=0.034</tspan></text>
<text transform="translate(339.95,241.24) scale(0.97,1)" font-size="7.6" text-anchor="middle" fill="#1e1e1e" style="stroke-width:0.06px"><tspan font-weight="bold">9.7</tspan><tspan font-weight="normal"> (2.1-45.0)</tspan></text>
<text transform="translate(339.95,250.49) scale(0.97,1)" font-size="7.6" text-anchor="middle" fill="#1e1e1e" style="stroke-width:0.06px"><tspan font-weight="bold">p=0.004</tspan></text>
<text x="8.30" y="513.22" font-size="11" text-anchor="start" font-weight="bold" fill="#000" >E</text>
<rect x="50.20" y="583.60" width="114.90" height="38.60" fill="#dfe7cf" />
<line x1="51.50" y1="584.40" x2="51.50" y2="621.20" stroke="#f0f8e0" stroke-width="0.9" />
<line x1="51.20" y1="620.90" x2="165.10" y2="620.90" stroke="#f0f8e0" stroke-width="0.9" />
<line x1="50.20" y1="583.60" x2="165.10" y2="583.60" stroke="#333" stroke-width="1.2" stroke-dasharray="2.9 2.3"/>
<line x1="47.00" y1="525.00" x2="50.20" y2="525.00" stroke="#383838" stroke-width="1.1" />
<text x="44.20" y="527.95" font-size="8.2" text-anchor="end" font-weight="normal" fill="#1a1a1a" >10000</text>
<line x1="47.00" y1="549.30" x2="50.20" y2="549.30" stroke="#383838" stroke-width="1.1" />
<text x="44.20" y="552.25" font-size="8.2" text-anchor="end" font-weight="normal" fill="#1a1a1a" >1000</text>
<line x1="47.00" y1="573.60" x2="50.20" y2="573.60" stroke="#383838" stroke-width="1.1" />
<text x="44.20" y="576.55" font-size="8.2" text-anchor="end" font-weight="normal" fill="#1a1a1a" >100</text>
<line x1="47.00" y1="597.90" x2="50.20" y2="597.90" stroke="#383838" stroke-width="1.1" />
<text x="44.20" y="600.85" font-size="8.2" text-anchor="end" font-weight="normal" fill="#1a1a1a" >10</text>
<line x1="47.00" y1="622.20" x2="50.20" y2="622.20" stroke="#383838" stroke-width="1.1" />
<text x="44.20" y="625.15" font-size="8.2" text-anchor="end" font-weight="normal" fill="#1a1a1a" >1</text>
<line x1="50.20" y1="522.50" x2="50.20" y2="623.00" stroke="#383838" stroke-width="1.7" />
<line x1="49.40" y1="622.20" x2="165.10" y2="622.20" stroke="#383838" stroke-width="1.7" />
<text transform="translate(15.88,572.90) rotate(-90) scale(0.72,1)" font-size="9.1" text-anchor="middle" fill="#1a1a1a" style="stroke-width:0.4px">EV-TF (fM)</text>
<line x1="82.80" y1="622.20" x2="82.80" y2="624.60" stroke="#383838" stroke-width="1.0" />
<text transform="translate(82.80,635.70) scale(0.91,1)" font-size="8.6" text-anchor="middle" font-weight="normal" fill="#1a1a1a">Severe</text>
<text transform="translate(82.80,644.90) scale(0.91,1)" font-size="8.6" text-anchor="middle" font-weight="normal" fill="#1a1a1a">COVID-19</text>
<line x1="131.90" y1="622.20" x2="131.90" y2="624.60" stroke="#383838" stroke-width="1.0" />
<text transform="translate(131.90,635.70) scale(0.91,1)" font-size="8.6" text-anchor="middle" font-weight="normal" fill="#1a1a1a">Septic</text>
<text transform="translate(131.90,644.90) scale(0.91,1)" font-size="8.6" text-anchor="middle" font-weight="normal" fill="#1a1a1a">Shock</text>
<line x1="83.30" y1="528.10" x2="131.90" y2="528.10" stroke="#3a3a3a" stroke-width="1.3" />
<circle cx="104.80" cy="524.10" r="1.05" fill="#222"/>
<circle cx="107.70" cy="524.10" r="1.05" fill="#222"/>
<circle cx="110.60" cy="524.10" r="1.05" fill="#222"/>
<line x1="82.80" y1="552.30" x2="82.80" y2="583.70" stroke="#3a3a3a" stroke-width="1.2" />
<line x1="74.50" y1="552.30" x2="91.10" y2="552.30" stroke="#3a3a3a" stroke-width="1.5" />
<line x1="74.50" y1="583.70" x2="91.10" y2="583.70" stroke="#3a3a3a" stroke-width="1.5" />
<line x1="66.50" y1="565.30" x2="99.10" y2="565.30" stroke="#333" stroke-width="1.5" />
<circle cx="82.80" cy="534.10" r="0.9" fill="#183670"/>
<circle cx="81.30" cy="545.80" r="0.9" fill="#183670"/>
<circle cx="84.30" cy="544.90" r="0.9" fill="#183670"/>
<circle cx="87.40" cy="545.80" r="0.9" fill="#183670"/>
<circle cx="78.00" cy="548.80" r="0.9" fill="#183670"/>
<circle cx="84.30" cy="549.50" r="0.9" fill="#183670"/>
<circle cx="87.40" cy="548.40" r="0.9" fill="#183670"/>
<circle cx="78.00" cy="552.30" r="0.9" fill="#183670"/>
<circle cx="81.30" cy="552.30" r="0.9" fill="#183670"/>
<circle cx="84.30" cy="552.30" r="0.9" fill="#183670"/>
<circle cx="87.40" cy="552.70" r="0.9" fill="#183670"/>
<circle cx="82.80" cy="555.30" r="0.9" fill="#183670"/>
<circle cx="81.30" cy="556.90" r="0.9" fill="#183670"/>
<circle cx="84.30" cy="556.30" r="0.9" fill="#183670"/>
<circle cx="81.30" cy="559.30" r="0.9" fill="#183670"/>
<circle cx="84.30" cy="558.90" r="0.9" fill="#183670"/>
<circle cx="81.30" cy="561.20" r="0.9" fill="#183670"/>
<circle cx="84.30" cy="562.10" r="0.9" fill="#183670"/>
<circle cx="82.80" cy="563.20" r="0.9" fill="#183670"/>
<circle cx="84.30" cy="565.80" r="0.9" fill="#183670"/>
<circle cx="81.30" cy="567.70" r="0.9" fill="#183670"/>
<circle cx="81.30" cy="573.60" r="0.9" fill="#183670"/>
<circle cx="84.30" cy="573.80" r="0.9" fill="#183670"/>
<circle cx="81.30" cy="575.50" r="0.9" fill="#183670"/>
<circle cx="84.30" cy="576.20" r="0.9" fill="#183670"/>
<circle cx="81.30" cy="578.10" r="0.9" fill="#183670"/>
<circle cx="84.30" cy="578.80" r="0.9" fill="#183670"/>
<circle cx="81.30" cy="580.70" r="0.9" fill="#183670"/>
<circle cx="84.30" cy="580.70" r="0.9" fill="#183670"/>
<circle cx="78.00" cy="584.30" r="0.9" fill="#183670"/>
<circle cx="81.30" cy="584.00" r="0.9" fill="#183670"/>
<circle cx="84.30" cy="584.90" r="0.9" fill="#183670"/>
<circle cx="82.80" cy="587.90" r="0.9" fill="#183670"/>
<circle cx="81.30" cy="590.20" r="0.9" fill="#183670"/>
<circle cx="84.30" cy="591.40" r="0.9" fill="#183670"/>
<circle cx="87.40" cy="590.50" r="0.9" fill="#183670"/>
<circle cx="79.60" cy="605.90" r="0.9" fill="#183670"/>
<circle cx="82.80" cy="605.90" r="0.9" fill="#183670"/>
<circle cx="85.80" cy="605.90" r="0.9" fill="#183670"/>
<line x1="131.90" y1="582.80" x2="131.90" y2="605.80" stroke="#3a3a3a" stroke-width="1.2" />
<line x1="124.15" y1="582.80" x2="139.65" y2="582.80" stroke="#3a3a3a" stroke-width="1.5" />
<line x1="124.15" y1="605.80" x2="139.65" y2="605.80" stroke="#3a3a3a" stroke-width="1.5" />
<line x1="115.65" y1="591.30" x2="148.15" y2="591.30" stroke="#333" stroke-width="1.5" />
<circle cx="131.80" cy="547.90" r="0.9" fill="#183670"/>
<circle cx="131.80" cy="557.60" r="0.9" fill="#183670"/>
<circle cx="131.80" cy="560.50" r="0.9" fill="#183670"/>
<circle cx="131.80" cy="562.30" r="0.9" fill="#183670"/>
<circle cx="131.80" cy="564.10" r="0.9" fill="#183670"/>
<circle cx="133.41" cy="593.93" r="0.9" fill="#183670"/>
<circle cx="131.82" cy="603.51" r="0.9" fill="#183670"/>
<circle cx="131.82" cy="602.83" r="0.9" fill="#183670"/>
<circle cx="132.24" cy="581.89" r="0.9" fill="#183670"/>
<circle cx="131.57" cy="574.42" r="0.9" fill="#183670"/>
<circle cx="132.96" cy="578.05" r="0.9" fill="#183670"/>
<circle cx="133.86" cy="580.70" r="0.9" fill="#183670"/>
<circle cx="133.12" cy="601.92" r="0.9" fill="#183670"/>
<circle cx="130.16" cy="591.26" r="0.9" fill="#183670"/>
<circle cx="130.15" cy="583.56" r="0.9" fill="#183670"/>
<circle cx="131.28" cy="578.66" r="0.9" fill="#183670"/>
<circle cx="132.85" cy="593.30" r="0.9" fill="#183670"/>
<circle cx="133.68" cy="584.81" r="0.9" fill="#183670"/>
<circle cx="131.78" cy="589.38" r="0.9" fill="#183670"/>
<circle cx="133.91" cy="596.55" r="0.9" fill="#183670"/>
<circle cx="132.72" cy="601.04" r="0.9" fill="#183670"/>
<circle cx="129.03" cy="585.72" r="0.9" fill="#183670"/>
<circle cx="132.75" cy="575.50" r="0.9" fill="#183670"/>
<circle cx="132.04" cy="585.02" r="0.9" fill="#183670"/>
<circle cx="132.76" cy="598.82" r="0.9" fill="#183670"/>
<circle cx="132.16" cy="576.92" r="0.9" fill="#183670"/>
<circle cx="132.89" cy="603.38" r="0.9" fill="#183670"/>
<circle cx="130.82" cy="591.44" r="0.9" fill="#183670"/>
<circle cx="130.64" cy="579.68" r="0.9" fill="#183670"/>
<circle cx="133.54" cy="579.17" r="0.9" fill="#183670"/>
<circle cx="130.34" cy="591.07" r="0.9" fill="#183670"/>
<circle cx="131.66" cy="593.01" r="0.9" fill="#183670"/>
<circle cx="134.53" cy="587.50" r="0.9" fill="#183670"/>
<circle cx="132.57" cy="600.83" r="0.9" fill="#183670"/>
<circle cx="131.68" cy="599.22" r="0.9" fill="#183670"/>
<circle cx="134.51" cy="583.43" r="0.9" fill="#183670"/>
<circle cx="133.36" cy="588.51" r="0.9" fill="#183670"/>
<circle cx="131.30" cy="589.33" r="0.9" fill="#183670"/>
<circle cx="133.44" cy="578.69" r="0.9" fill="#183670"/>
<circle cx="129.38" cy="589.98" r="0.9" fill="#183670"/>
<circle cx="132.67" cy="601.76" r="0.9" fill="#183670"/>
<circle cx="130.63" cy="585.63" r="0.9" fill="#183670"/>
<circle cx="133.08" cy="589.54" r="0.9" fill="#183670"/>
<circle cx="129.54" cy="594.79" r="0.9" fill="#183670"/>
<circle cx="132.91" cy="591.50" r="0.9" fill="#183670"/>
<circle cx="132.83" cy="588.81" r="0.9" fill="#183670"/>
<circle cx="132.36" cy="599.52" r="0.9" fill="#183670"/>
<circle cx="134.01" cy="585.20" r="0.9" fill="#183670"/>
<circle cx="133.91" cy="590.94" r="0.9" fill="#183670"/>
<circle cx="133.01" cy="597.37" r="0.9" fill="#183670"/>
<circle cx="131.46" cy="592.59" r="0.9" fill="#183670"/>
<circle cx="132.60" cy="593.96" r="0.9" fill="#183670"/>
<circle cx="130.52" cy="597.05" r="0.9" fill="#183670"/>
<circle cx="130.09" cy="588.11" r="0.9" fill="#183670"/>
<circle cx="129.87" cy="595.95" r="0.9" fill="#183670"/>
<circle cx="129.10" cy="589.09" r="0.9" fill="#183670"/>
<circle cx="130.96" cy="578.27" r="0.9" fill="#183670"/>
<circle cx="131.77" cy="580.19" r="0.9" fill="#183670"/>
<circle cx="132.44" cy="586.17" r="0.9" fill="#183670"/>
<circle cx="129.95" cy="582.91" r="0.9" fill="#183670"/>
<circle cx="130.54" cy="600.60" r="0.9" fill="#183670"/>
<circle cx="132.14" cy="593.63" r="0.9" fill="#183670"/>
<circle cx="134.47" cy="584.86" r="0.9" fill="#183670"/>
<circle cx="132.84" cy="600.19" r="0.9" fill="#183670"/>
<circle cx="130.14" cy="594.55" r="0.9" fill="#183670"/>
<circle cx="134.38" cy="593.07" r="0.9" fill="#183670"/>
<circle cx="131.99" cy="574.03" r="0.9" fill="#183670"/>
<circle cx="132.57" cy="593.69" r="0.9" fill="#183670"/>
<circle cx="131.73" cy="602.52" r="0.9" fill="#183670"/>
<circle cx="133.93" cy="581.24" r="0.9" fill="#183670"/>
<circle cx="130.79" cy="589.88" r="0.9" fill="#183670"/>
<circle cx="129.95" cy="583.16" r="0.9" fill="#183670"/>
<circle cx="130.84" cy="593.89" r="0.9" fill="#183670"/>
<circle cx="131.11" cy="599.02" r="0.9" fill="#183670"/>
<circle cx="131.77" cy="583.38" r="0.9" fill="#183670"/>
<circle cx="133.09" cy="594.64" r="0.9" fill="#183670"/>
<circle cx="131.04" cy="583.62" r="0.9" fill="#183670"/>
<circle cx="131.71" cy="583.50" r="0.9" fill="#183670"/>
<circle cx="132.43" cy="585.55" r="0.9" fill="#183670"/>
<circle cx="131.82" cy="575.17" r="0.9" fill="#183670"/>
<circle cx="133.53" cy="591.46" r="0.9" fill="#183670"/>
<circle cx="133.23" cy="587.69" r="0.9" fill="#183670"/>
<circle cx="133.97" cy="594.23" r="0.9" fill="#183670"/>
<circle cx="134.01" cy="586.34" r="0.9" fill="#183670"/>
<circle cx="133.18" cy="580.29" r="0.9" fill="#183670"/>
<circle cx="130.97" cy="596.23" r="0.9" fill="#183670"/>
<circle cx="130.91" cy="591.57" r="0.9" fill="#183670"/>
<circle cx="131.07" cy="599.98" r="0.9" fill="#183670"/>
<circle cx="132.94" cy="595.24" r="0.9" fill="#183670"/>
<circle cx="133.36" cy="596.44" r="0.9" fill="#183670"/>
<circle cx="133.80" cy="581.02" r="0.9" fill="#183670"/>
<circle cx="131.04" cy="596.80" r="0.9" fill="#183670"/>
<circle cx="132.16" cy="603.38" r="0.9" fill="#183670"/>
<circle cx="132.67" cy="587.25" r="0.9" fill="#183670"/>
<circle cx="131.68" cy="575.39" r="0.9" fill="#183670"/>
<circle cx="132.06" cy="576.30" r="0.9" fill="#183670"/>
<circle cx="131.35" cy="578.30" r="0.9" fill="#183670"/>
<circle cx="134.25" cy="593.21" r="0.9" fill="#183670"/>
<circle cx="133.07" cy="585.97" r="0.9" fill="#183670"/>
<circle cx="132.23" cy="590.19" r="0.9" fill="#183670"/>
<circle cx="132.17" cy="593.87" r="0.9" fill="#183670"/>
<circle cx="130.30" cy="590.54" r="0.9" fill="#183670"/>
<circle cx="130.01" cy="585.88" r="0.9" fill="#183670"/>
<circle cx="132.12" cy="576.92" r="0.9" fill="#183670"/>
<circle cx="133.75" cy="589.37" r="0.9" fill="#183670"/>
<circle cx="132.78" cy="575.72" r="0.9" fill="#183670"/>
<circle cx="130.18" cy="595.80" r="0.9" fill="#183670"/>
<circle cx="132.28" cy="600.26" r="0.9" fill="#183670"/>
<circle cx="130.94" cy="585.34" r="0.9" fill="#183670"/>
<circle cx="131.30" cy="593.64" r="0.9" fill="#183670"/>
<circle cx="132.01" cy="587.87" r="0.9" fill="#183670"/>
<circle cx="133.21" cy="592.96" r="0.9" fill="#183670"/>
<circle cx="129.05" cy="586.66" r="0.9" fill="#183670"/>
<circle cx="133.44" cy="580.48" r="0.9" fill="#183670"/>
<circle cx="128.79" cy="589.39" r="0.9" fill="#183670"/>
<circle cx="132.65" cy="589.05" r="0.9" fill="#183670"/>
<circle cx="129.35" cy="587.72" r="0.9" fill="#183670"/>
<circle cx="131.49" cy="578.95" r="0.9" fill="#183670"/>
<circle cx="129.81" cy="586.34" r="0.9" fill="#183670"/>
<circle cx="130.31" cy="582.13" r="0.9" fill="#183670"/>
<circle cx="131.81" cy="583.19" r="0.9" fill="#183670"/>
<circle cx="131.78" cy="596.01" r="0.9" fill="#183670"/>
<circle cx="132.25" cy="604.25" r="0.9" fill="#183670"/>
<circle cx="133.09" cy="583.32" r="0.9" fill="#183670"/>
<circle cx="130.29" cy="579.22" r="0.9" fill="#183670"/>
<circle cx="131.47" cy="581.38" r="0.9" fill="#183670"/>
<circle cx="130.74" cy="583.98" r="0.9" fill="#183670"/>
<circle cx="132.48" cy="579.23" r="0.9" fill="#183670"/>
<circle cx="128.74" cy="587.78" r="0.9" fill="#183670"/>
<circle cx="132.20" cy="587.13" r="0.9" fill="#183670"/>
<circle cx="129.46" cy="585.20" r="0.9" fill="#183670"/>
<circle cx="131.33" cy="603.94" r="0.9" fill="#183670"/>
<circle cx="131.71" cy="575.92" r="0.9" fill="#183670"/>
<circle cx="129.44" cy="583.79" r="0.9" fill="#183670"/>
<circle cx="131.92" cy="605.09" r="0.9" fill="#183670"/>
<circle cx="129.34" cy="586.88" r="0.9" fill="#183670"/>
<circle cx="132.13" cy="584.04" r="0.9" fill="#183670"/>
<circle cx="130.57" cy="601.42" r="0.9" fill="#183670"/>
<circle cx="132.32" cy="591.27" r="0.9" fill="#183670"/>
<circle cx="133.24" cy="586.05" r="0.9" fill="#183670"/>
<circle cx="131.78" cy="603.22" r="0.9" fill="#183670"/>
<circle cx="130.76" cy="600.45" r="0.9" fill="#183670"/>
<circle cx="133.36" cy="583.97" r="0.9" fill="#183670"/>
<circle cx="130.78" cy="600.22" r="0.9" fill="#183670"/>
<circle cx="130.96" cy="576.62" r="0.9" fill="#183670"/>
<circle cx="130.27" cy="587.72" r="0.9" fill="#183670"/>
<circle cx="131.50" cy="575.54" r="0.9" fill="#183670"/>
<circle cx="131.43" cy="585.96" r="0.9" fill="#183670"/>
<circle cx="132.20" cy="584.05" r="0.9" fill="#183670"/>
<circle cx="132.90" cy="588.15" r="0.9" fill="#183670"/>
<circle cx="133.23" cy="596.44" r="0.9" fill="#183670"/>
<circle cx="129.30" cy="586.24" r="0.9" fill="#183670"/>
<circle cx="132.51" cy="579.42" r="0.9" fill="#183670"/>
<circle cx="133.26" cy="583.14" r="0.9" fill="#183670"/>
<circle cx="129.29" cy="591.83" r="0.9" fill="#183670"/>
<circle cx="132.95" cy="578.16" r="0.9" fill="#183670"/>
<circle cx="131.30" cy="581.40" r="0.9" fill="#183670"/>
<circle cx="132.37" cy="584.57" r="0.9" fill="#183670"/>
<circle cx="133.79" cy="588.28" r="0.9" fill="#183670"/>
<circle cx="133.03" cy="577.78" r="0.9" fill="#183670"/>
<circle cx="131.53" cy="588.75" r="0.9" fill="#183670"/>
<circle cx="133.60" cy="593.07" r="0.9" fill="#183670"/>
<circle cx="134.91" cy="587.42" r="0.9" fill="#183670"/>
<circle cx="131.23" cy="589.42" r="0.9" fill="#183670"/>
<circle cx="130.66" cy="580.90" r="0.9" fill="#183670"/>
<circle cx="133.35" cy="592.00" r="0.9" fill="#183670"/>
<circle cx="130.76" cy="581.73" r="0.9" fill="#183670"/>
<circle cx="133.94" cy="586.83" r="0.9" fill="#183670"/>
<circle cx="129.86" cy="589.68" r="0.9" fill="#183670"/>
<circle cx="132.63" cy="602.81" r="0.9" fill="#183670"/>
<circle cx="133.89" cy="584.37" r="0.9" fill="#183670"/>
<circle cx="131.97" cy="586.05" r="0.9" fill="#183670"/>
<circle cx="131.29" cy="592.77" r="0.9" fill="#183670"/>
<circle cx="130.88" cy="584.15" r="0.9" fill="#183670"/>
<circle cx="133.12" cy="586.25" r="0.9" fill="#183670"/>
<circle cx="132.06" cy="596.17" r="0.9" fill="#183670"/>
<circle cx="132.20" cy="599.56" r="0.9" fill="#183670"/>
<circle cx="130.93" cy="595.74" r="0.9" fill="#183670"/>
<circle cx="131.58" cy="576.49" r="0.9" fill="#183670"/>
<circle cx="133.10" cy="592.57" r="0.9" fill="#183670"/>
<circle cx="129.76" cy="582.79" r="0.9" fill="#183670"/>
<circle cx="133.50" cy="580.68" r="0.9" fill="#183670"/>
<circle cx="128.98" cy="591.41" r="0.9" fill="#183670"/>
<circle cx="132.83" cy="586.49" r="0.9" fill="#183670"/>
<circle cx="129.86" cy="593.63" r="0.9" fill="#183670"/>
<circle cx="132.85" cy="596.04" r="0.9" fill="#183670"/>
<circle cx="130.20" cy="585.97" r="0.9" fill="#183670"/>
<circle cx="132.55" cy="583.78" r="0.9" fill="#183670"/>
<circle cx="132.23" cy="602.71" r="0.9" fill="#183670"/>
<circle cx="130.34" cy="598.53" r="0.9" fill="#183670"/>
<circle cx="134.07" cy="592.11" r="0.9" fill="#183670"/>
<circle cx="131.60" cy="597.30" r="0.9" fill="#183670"/>
<circle cx="130.72" cy="590.92" r="0.9" fill="#183670"/>
<circle cx="134.28" cy="582.98" r="0.9" fill="#183670"/>
<circle cx="130.46" cy="579.99" r="0.9" fill="#183670"/>
<circle cx="130.07" cy="592.00" r="0.9" fill="#183670"/>
<circle cx="133.01" cy="594.68" r="0.9" fill="#183670"/>
<circle cx="131.05" cy="577.23" r="0.9" fill="#183670"/>
<circle cx="132.17" cy="576.97" r="0.9" fill="#183670"/>
<circle cx="130.80" cy="577.31" r="0.9" fill="#183670"/>
<circle cx="131.73" cy="580.61" r="0.9" fill="#183670"/>
<circle cx="129.65" cy="591.39" r="0.9" fill="#183670"/>
<circle cx="132.89" cy="593.11" r="0.9" fill="#183670"/>
<circle cx="132.45" cy="604.24" r="0.9" fill="#183670"/>
<circle cx="130.35" cy="597.08" r="0.9" fill="#183670"/>
<circle cx="133.38" cy="589.33" r="0.9" fill="#183670"/>
<circle cx="132.92" cy="583.30" r="0.9" fill="#183670"/>
<circle cx="133.72" cy="583.47" r="0.9" fill="#183670"/>
<circle cx="131.42" cy="590.62" r="0.9" fill="#183670"/>
<circle cx="129.99" cy="581.61" r="0.9" fill="#183670"/>
<circle cx="131.79" cy="582.67" r="0.9" fill="#183670"/>
<circle cx="132.63" cy="576.94" r="0.9" fill="#183670"/>
<circle cx="130.46" cy="585.55" r="0.9" fill="#183670"/>
<circle cx="132.01" cy="588.66" r="0.9" fill="#183670"/>
<circle cx="132.82" cy="575.70" r="0.9" fill="#183670"/>
<circle cx="129.23" cy="588.16" r="0.9" fill="#183670"/>
<circle cx="129.92" cy="595.99" r="0.9" fill="#183670"/>
<circle cx="131.50" cy="586.57" r="0.9" fill="#183670"/>
<circle cx="129.64" cy="594.64" r="0.9" fill="#183670"/>
<circle cx="133.94" cy="587.22" r="0.9" fill="#183670"/>
<circle cx="132.61" cy="602.54" r="0.9" fill="#183670"/>
<circle cx="135.03" cy="587.51" r="0.9" fill="#183670"/>
<circle cx="130.95" cy="580.93" r="0.9" fill="#183670"/>
<circle cx="132.95" cy="589.03" r="0.9" fill="#183670"/>
<circle cx="131.78" cy="577.95" r="0.9" fill="#183670"/>
<circle cx="133.17" cy="580.29" r="0.9" fill="#183670"/>
<circle cx="133.16" cy="578.36" r="0.9" fill="#183670"/>
<circle cx="131.20" cy="604.00" r="0.9" fill="#183670"/>
<circle cx="133.52" cy="587.73" r="0.9" fill="#183670"/>
<circle cx="129.85" cy="585.93" r="0.9" fill="#183670"/>
<circle cx="130.24" cy="596.46" r="0.9" fill="#183670"/>
<circle cx="131.26" cy="594.59" r="0.9" fill="#183670"/>
<circle cx="134.81" cy="589.29" r="0.9" fill="#183670"/>
<circle cx="130.83" cy="581.71" r="0.9" fill="#183670"/>
<circle cx="129.75" cy="591.45" r="0.9" fill="#183670"/>
<circle cx="128.84" cy="589.40" r="0.9" fill="#183670"/>
<circle cx="131.91" cy="598.68" r="0.9" fill="#183670"/>
<circle cx="129.57" cy="593.54" r="0.9" fill="#183670"/>
<circle cx="131.20" cy="590.02" r="0.9" fill="#183670"/>
<circle cx="130.75" cy="585.06" r="0.9" fill="#183670"/>
<circle cx="134.62" cy="588.40" r="0.9" fill="#183670"/>
<circle cx="133.15" cy="585.85" r="0.9" fill="#183670"/>
<circle cx="131.47" cy="597.56" r="0.9" fill="#183670"/>
<circle cx="132.02" cy="603.58" r="0.9" fill="#183670"/>
<circle cx="131.46" cy="600.55" r="0.9" fill="#183670"/>
<circle cx="130.10" cy="589.82" r="0.9" fill="#183670"/>
<circle cx="129.27" cy="588.53" r="0.9" fill="#183670"/>
<circle cx="134.53" cy="584.95" r="0.9" fill="#183670"/>
<circle cx="133.27" cy="582.43" r="0.9" fill="#183670"/>
<circle cx="133.16" cy="597.72" r="0.9" fill="#183670"/>
<circle cx="132.56" cy="594.02" r="0.9" fill="#183670"/>
<circle cx="133.63" cy="581.86" r="0.9" fill="#183670"/>
<circle cx="129.81" cy="588.04" r="0.9" fill="#183670"/>
<circle cx="132.62" cy="578.39" r="0.9" fill="#183670"/>
<circle cx="129.26" cy="591.96" r="0.9" fill="#183670"/>
<circle cx="132.14" cy="601.88" r="0.9" fill="#183670"/>
<circle cx="130.44" cy="593.56" r="0.9" fill="#183670"/>
<circle cx="131.00" cy="604.37" r="0.9" fill="#183670"/>
<circle cx="129.97" cy="595.89" r="0.9" fill="#183670"/>
<circle cx="134.38" cy="588.73" r="0.9" fill="#183670"/>
<circle cx="132.48" cy="597.07" r="0.9" fill="#183670"/>
<circle cx="132.62" cy="601.00" r="0.9" fill="#183670"/>
<circle cx="129.52" cy="582.28" r="0.9" fill="#183670"/>
<circle cx="133.37" cy="598.26" r="0.9" fill="#183670"/>
<circle cx="130.11" cy="588.90" r="0.9" fill="#183670"/>
<circle cx="131.62" cy="551.00" r="0.85" fill="#183670"/>
<circle cx="132.44" cy="554.50" r="0.85" fill="#183670"/>
<circle cx="131.55" cy="557.60" r="0.85" fill="#183670"/>
<circle cx="131.41" cy="560.50" r="0.85" fill="#183670"/>
<circle cx="131.72" cy="562.30" r="0.85" fill="#183670"/>
<circle cx="131.39" cy="564.10" r="0.85" fill="#183670"/>
<circle cx="131.81" cy="566.00" r="0.85" fill="#183670"/>
<circle cx="132.05" cy="568.00" r="0.85" fill="#183670"/>
<circle cx="132.08" cy="570.00" r="0.85" fill="#183670"/>
<circle cx="131.51" cy="571.60" r="0.85" fill="#183670"/>
<circle cx="131.47" cy="573.00" r="0.85" fill="#183670"/>
<line x1="115.90" y1="605.80" x2="148.40" y2="605.80" stroke="#183670" stroke-width="1.7" />
<text x="181.00" y="515.32" font-size="11" text-anchor="start" font-weight="bold" fill="#000" >F</text>
<rect x="217.70" y="567.10" width="123.30" height="22.10" fill="#dfe7cf" />
<line x1="219.00" y1="567.90" x2="219.00" y2="588.40" stroke="#f0f8e0" stroke-width="0.9" />
<line x1="217.70" y1="567.10" x2="341.00" y2="567.10" stroke="#333" stroke-width="1.2" stroke-dasharray="2.9 2.3"/>
<line x1="217.70" y1="589.20" x2="341.00" y2="589.20" stroke="#333" stroke-width="1.2" stroke-dasharray="2.9 2.3"/>
<line x1="214.50" y1="526.80" x2="217.70" y2="526.80" stroke="#383838" stroke-width="1.1" />
<text x="212.00" y="529.75" font-size="8.2" text-anchor="end" font-weight="normal" fill="#1a1a1a" >1000</text>
<line x1="214.50" y1="550.80" x2="217.70" y2="550.80" stroke="#383838" stroke-width="1.1" />
<text x="212.00" y="553.75" font-size="8.2" text-anchor="end" font-weight="normal" fill="#1a1a1a" >100</text>
<line x1="214.50" y1="574.80" x2="217.70" y2="574.80" stroke="#383838" stroke-width="1.1" />
<text x="212.00" y="577.75" font-size="8.2" text-anchor="end" font-weight="normal" fill="#1a1a1a" >10</text>
<line x1="214.50" y1="598.80" x2="217.70" y2="598.80" stroke="#383838" stroke-width="1.1" />
<text x="212.00" y="601.75" font-size="8.2" text-anchor="end" font-weight="normal" fill="#1a1a1a" >1</text>
<line x1="214.50" y1="622.80" x2="217.70" y2="622.80" stroke="#383838" stroke-width="1.1" />
<text x="212.00" y="625.75" font-size="8.2" text-anchor="end" font-weight="normal" fill="#1a1a1a" >0.1</text>
<line x1="217.70" y1="524.20" x2="217.70" y2="623.40" stroke="#383838" stroke-width="1.7" />
<line x1="216.90" y1="622.60" x2="340.80" y2="622.60" stroke="#383838" stroke-width="1.7" />
<text transform="translate(189.30,573.40) rotate(-90) scale(0.78,1)" font-size="8.6" text-anchor="middle" fill="#1a1a1a" style="stroke-width:0.4px">EV-fib (mOD/min)</text>
<line x1="253.10" y1="622.60" x2="253.10" y2="624.80" stroke="#383838" stroke-width="1.0" />
<text transform="translate(253.10,636.40) scale(0.91,1)" font-size="8.6" text-anchor="middle" font-weight="normal" fill="#1a1a1a">Severe</text>
<text transform="translate(253.10,645.10) scale(0.91,1)" font-size="8.6" text-anchor="middle" font-weight="normal" fill="#1a1a1a">COVID-19</text>
<line x1="305.70" y1="622.60" x2="305.70" y2="624.80" stroke="#383838" stroke-width="1.0" />
<text transform="translate(305.70,636.40) scale(0.91,1)" font-size="8.6" text-anchor="middle" font-weight="normal" fill="#1a1a1a">Septic</text>
<text transform="translate(305.70,645.10) scale(0.91,1)" font-size="8.6" text-anchor="middle" font-weight="normal" fill="#1a1a1a">shock</text>
<line x1="252.80" y1="523.10" x2="304.50" y2="523.10" stroke="#3a3a3a" stroke-width="1.3" />
<circle cx="275.80" cy="519.10" r="1.05" fill="#222"/>
<circle cx="278.70" cy="519.10" r="1.05" fill="#222"/>
<circle cx="281.60" cy="519.10" r="1.05" fill="#222"/>
<line x1="252.90" y1="543.60" x2="252.90" y2="566.60" stroke="#3a3a3a" stroke-width="1.2" />
<line x1="244.00" y1="543.60" x2="261.80" y2="543.60" stroke="#3a3a3a" stroke-width="1.4" />
<line x1="244.00" y1="566.60" x2="261.80" y2="566.60" stroke="#3a3a3a" stroke-width="1.4" />
<line x1="235.60" y1="555.60" x2="270.20" y2="555.60" stroke="#333" stroke-width="1.4" />
<rect x="249.70" y="530.10" width="1.2" height="1.2" fill="#24437f"/>
<rect x="252.30" y="529.00" width="1.2" height="1.2" fill="#24437f"/>
<rect x="252.30" y="530.90" width="1.2" height="1.2" fill="#24437f"/>
<rect x="254.90" y="530.10" width="1.2" height="1.2" fill="#24437f"/>
<rect x="252.30" y="535.80" width="1.2" height="1.2" fill="#24437f"/>
<rect x="254.90" y="537.80" width="1.2" height="1.2" fill="#24437f"/>
<rect x="249.70" y="539.90" width="1.2" height="1.2" fill="#24437f"/>
<rect x="252.30" y="538.80" width="1.2" height="1.2" fill="#24437f"/>
<rect x="252.30" y="544.40" width="1.2" height="1.2" fill="#24437f"/>
<rect x="254.90" y="545.90" width="1.2" height="1.2" fill="#24437f"/>
<rect x="249.70" y="548.30" width="1.2" height="1.2" fill="#24437f"/>
<rect x="249.70" y="549.80" width="1.2" height="1.2" fill="#24437f"/>
<rect x="254.90" y="548.90" width="1.2" height="1.2" fill="#24437f"/>
<rect x="252.30" y="550.40" width="1.2" height="1.2" fill="#24437f"/>
<rect x="249.70" y="553.40" width="1.2" height="1.2" fill="#24437f"/>
<rect x="252.30" y="554.90" width="1.2" height="1.2" fill="#24437f"/>
<rect x="254.90" y="554.20" width="1.2" height="1.2" fill="#24437f"/>
<rect x="249.70" y="556.40" width="1.2" height="1.2" fill="#24437f"/>
<rect x="249.70" y="557.80" width="1.2" height="1.2" fill="#24437f"/>
<rect x="252.30" y="560.40" width="1.2" height="1.2" fill="#24437f"/>
<rect x="252.30" y="562.40" width="1.2" height="1.2" fill="#24437f"/>
<rect x="247.30" y="564.40" width="1.2" height="1.2" fill="#24437f"/>
<rect x="249.70" y="566.00" width="1.2" height="1.2" fill="#24437f"/>
<rect x="252.30" y="566.00" width="1.2" height="1.2" fill="#24437f"/>
<rect x="254.90" y="566.00" width="1.2" height="1.2" fill="#24437f"/>
<rect x="257.60" y="564.40" width="1.2" height="1.2" fill="#24437f"/>
<rect x="249.70" y="568.80" width="1.2" height="1.2" fill="#24437f"/>
<rect x="249.70" y="570.80" width="1.2" height="1.2" fill="#24437f"/>
<rect x="252.30" y="568.80" width="1.2" height="1.2" fill="#24437f"/>
<rect x="252.30" y="570.40" width="1.2" height="1.2" fill="#24437f"/>
<rect x="254.90" y="569.40" width="1.2" height="1.2" fill="#24437f"/>
<rect x="249.70" y="571.90" width="1.2" height="1.2" fill="#24437f"/>
<rect x="254.90" y="571.90" width="1.2" height="1.2" fill="#24437f"/>
<rect x="252.30" y="574.50" width="1.2" height="1.2" fill="#24437f"/>
<rect x="252.30" y="582.10" width="1.2" height="1.2" fill="#24437f"/>
<rect x="290.60" y="571.13" width="1.2" height="1.2" fill="#24437f"/>
<rect x="290.60" y="575.33" width="1.2" height="1.2" fill="#24437f"/>
<rect x="290.60" y="576.73" width="1.2" height="1.2" fill="#24437f"/>
<rect x="290.60" y="579.53" width="1.2" height="1.2" fill="#24437f"/>
<rect x="290.60" y="580.93" width="1.2" height="1.2" fill="#24437f"/>
<rect x="290.60" y="583.73" width="1.2" height="1.2" fill="#24437f"/>
<rect x="290.60" y="586.53" width="1.2" height="1.2" fill="#24437f"/>
<rect x="293.20" y="567.49" width="1.2" height="1.2" fill="#24437f"/>
<rect x="293.20" y="575.89" width="1.2" height="1.2" fill="#24437f"/>
<rect x="293.20" y="580.09" width="1.2" height="1.2" fill="#24437f"/>
<rect x="293.20" y="581.49" width="1.2" height="1.2" fill="#24437f"/>
<rect x="293.20" y="584.29" width="1.2" height="1.2" fill="#24437f"/>
<rect x="295.80" y="555.29" width="1.2" height="1.2" fill="#24437f"/>
<rect x="295.80" y="558.09" width="1.2" height="1.2" fill="#24437f"/>
<rect x="295.80" y="562.29" width="1.2" height="1.2" fill="#24437f"/>
<rect x="295.80" y="563.69" width="1.2" height="1.2" fill="#24437f"/>
<rect x="295.80" y="565.09" width="1.2" height="1.2" fill="#24437f"/>
<rect x="295.80" y="567.89" width="1.2" height="1.2" fill="#24437f"/>
<rect x="295.80" y="570.69" width="1.2" height="1.2" fill="#24437f"/>
<rect x="295.80" y="573.49" width="1.2" height="1.2" fill="#24437f"/>
<rect x="295.80" y="574.89" width="1.2" height="1.2" fill="#24437f"/>
<rect x="295.80" y="587.49" width="1.2" height="1.2" fill="#24437f"/>
<rect x="298.40" y="550.60" width="1.2" height="1.2" fill="#24437f"/>
<rect x="298.40" y="554.80" width="1.2" height="1.2" fill="#24437f"/>
<rect x="298.40" y="556.20" width="1.2" height="1.2" fill="#24437f"/>
<rect x="298.40" y="560.40" width="1.2" height="1.2" fill="#24437f"/>
<rect x="298.40" y="563.20" width="1.2" height="1.2" fill="#24437f"/>
<rect x="298.40" y="564.60" width="1.2" height="1.2" fill="#24437f"/>
<rect x="298.40" y="566.00" width="1.2" height="1.2" fill="#24437f"/>
<rect x="298.40" y="567.40" width="1.2" height="1.2" fill="#24437f"/>
<rect x="298.40" y="570.20" width="1.2" height="1.2" fill="#24437f"/>
<rect x="298.40" y="571.60" width="1.2" height="1.2" fill="#24437f"/>
<rect x="298.40" y="573.00" width="1.2" height="1.2" fill="#24437f"/>
<rect x="298.40" y="574.40" width="1.2" height="1.2" fill="#24437f"/>
<rect x="298.40" y="575.80" width="1.2" height="1.2" fill="#24437f"/>
<rect x="298.40" y="580.00" width="1.2" height="1.2" fill="#24437f"/>
<rect x="298.40" y="582.80" width="1.2" height="1.2" fill="#24437f"/>
<rect x="298.40" y="584.20" width="1.2" height="1.2" fill="#24437f"/>
<rect x="298.40" y="585.60" width="1.2" height="1.2" fill="#24437f"/>
<rect x="298.40" y="587.00" width="1.2" height="1.2" fill="#24437f"/>
<rect x="298.40" y="588.40" width="1.2" height="1.2" fill="#24437f"/>
<rect x="298.40" y="589.80" width="1.2" height="1.2" fill="#24437f"/>
<rect x="298.40" y="592.60" width="1.2" height="1.2" fill="#24437f"/>
<rect x="298.40" y="594.00" width="1.2" height="1.2" fill="#24437f"/>
<rect x="301.00" y="538.41" width="1.2" height="1.2" fill="#24437f"/>
<rect x="301.00" y="542.61" width="1.2" height="1.2" fill="#24437f"/>
<rect x="301.00" y="544.01" width="1.2" height="1.2" fill="#24437f"/>
<rect x="301.00" y="549.61" width="1.2" height="1.2" fill="#24437f"/>
<rect x="301.00" y="551.01" width="1.2" height="1.2" fill="#24437f"/>
<rect x="301.00" y="553.81" width="1.2" height="1.2" fill="#24437f"/>
<rect x="301.00" y="555.21" width="1.2" height="1.2" fill="#24437f"/>
<rect x="301.00" y="556.61" width="1.2" height="1.2" fill="#24437f"/>
<rect x="301.00" y="558.01" width="1.2" height="1.2" fill="#24437f"/>
<rect x="301.00" y="559.41" width="1.2" height="1.2" fill="#24437f"/>
<rect x="301.00" y="562.21" width="1.2" height="1.2" fill="#24437f"/>
<rect x="301.00" y="563.61" width="1.2" height="1.2" fill="#24437f"/>
<rect x="301.00" y="565.01" width="1.2" height="1.2" fill="#24437f"/>
<rect x="301.00" y="566.41" width="1.2" height="1.2" fill="#24437f"/>
<rect x="301.00" y="567.81" width="1.2" height="1.2" fill="#24437f"/>
<rect x="301.00" y="569.21" width="1.2" height="1.2" fill="#24437f"/>
<rect x="301.00" y="570.61" width="1.2" height="1.2" fill="#24437f"/>
<rect x="301.00" y="572.01" width="1.2" height="1.2" fill="#24437f"/>
<rect x="301.00" y="573.41" width="1.2" height="1.2" fill="#24437f"/>
<rect x="301.00" y="574.81" width="1.2" height="1.2" fill="#24437f"/>
<rect x="301.00" y="576.21" width="1.2" height="1.2" fill="#24437f"/>
<rect x="301.00" y="577.61" width="1.2" height="1.2" fill="#24437f"/>
<rect x="301.00" y="579.01" width="1.2" height="1.2" fill="#24437f"/>
<rect x="301.00" y="580.41" width="1.2" height="1.2" fill="#24437f"/>
<rect x="301.00" y="581.81" width="1.2" height="1.2" fill="#24437f"/>
<rect x="301.00" y="583.21" width="1.2" height="1.2" fill="#24437f"/>
<rect x="301.00" y="584.61" width="1.2" height="1.2" fill="#24437f"/>
<rect x="301.00" y="586.01" width="1.2" height="1.2" fill="#24437f"/>
<rect x="301.00" y="588.81" width="1.2" height="1.2" fill="#24437f"/>
<rect x="301.00" y="590.21" width="1.2" height="1.2" fill="#24437f"/>
<rect x="301.00" y="591.61" width="1.2" height="1.2" fill="#24437f"/>
<rect x="301.00" y="593.01" width="1.2" height="1.2" fill="#24437f"/>
<rect x="301.00" y="594.41" width="1.2" height="1.2" fill="#24437f"/>
<rect x="301.00" y="595.81" width="1.2" height="1.2" fill="#24437f"/>
<rect x="301.00" y="597.21" width="1.2" height="1.2" fill="#24437f"/>
<rect x="303.60" y="528.23" width="1.2" height="1.2" fill="#24437f"/>
<rect x="303.60" y="529.63" width="1.2" height="1.2" fill="#24437f"/>
<rect x="303.60" y="532.43" width="1.2" height="1.2" fill="#24437f"/>
<rect x="303.60" y="533.83" width="1.2" height="1.2" fill="#24437f"/>
<rect x="303.60" y="535.23" width="1.2" height="1.2" fill="#24437f"/>
<rect x="303.60" y="536.63" width="1.2" height="1.2" fill="#24437f"/>
<rect x="303.60" y="538.03" width="1.2" height="1.2" fill="#24437f"/>
<rect x="303.60" y="540.83" width="1.2" height="1.2" fill="#24437f"/>
<rect x="303.60" y="542.23" width="1.2" height="1.2" fill="#24437f"/>
<rect x="303.60" y="543.63" width="1.2" height="1.2" fill="#24437f"/>
<rect x="303.60" y="545.03" width="1.2" height="1.2" fill="#24437f"/>
<rect x="303.60" y="546.43" width="1.2" height="1.2" fill="#24437f"/>
<rect x="303.60" y="547.83" width="1.2" height="1.2" fill="#24437f"/>
<rect x="303.60" y="549.23" width="1.2" height="1.2" fill="#24437f"/>
<rect x="303.60" y="552.03" width="1.2" height="1.2" fill="#24437f"/>
<rect x="303.60" y="554.83" width="1.2" height="1.2" fill="#24437f"/>
<rect x="303.60" y="556.23" width="1.2" height="1.2" fill="#24437f"/>
<rect x="303.60" y="557.63" width="1.2" height="1.2" fill="#24437f"/>
<rect x="303.60" y="560.43" width="1.2" height="1.2" fill="#24437f"/>
<rect x="303.60" y="561.83" width="1.2" height="1.2" fill="#24437f"/>
<rect x="303.60" y="563.23" width="1.2" height="1.2" fill="#24437f"/>
<rect x="303.60" y="564.63" width="1.2" height="1.2" fill="#24437f"/>
<rect x="303.60" y="566.03" width="1.2" height="1.2" fill="#24437f"/>
<rect x="303.60" y="570.23" width="1.2" height="1.2" fill="#24437f"/>
<rect x="303.60" y="571.63" width="1.2" height="1.2" fill="#24437f"/>
<rect x="303.60" y="574.43" width="1.2" height="1.2" fill="#24437f"/>
<rect x="303.60" y="577.23" width="1.2" height="1.2" fill="#24437f"/>
<rect x="303.60" y="578.63" width="1.2" height="1.2" fill="#24437f"/>
<rect x="303.60" y="580.03" width="1.2" height="1.2" fill="#24437f"/>
<rect x="303.60" y="581.43" width="1.2" height="1.2" fill="#24437f"/>
<rect x="303.60" y="582.83" width="1.2" height="1.2" fill="#24437f"/>
<rect x="303.60" y="584.23" width="1.2" height="1.2" fill="#24437f"/>
<rect x="303.60" y="585.63" width="1.2" height="1.2" fill="#24437f"/>
<rect x="303.60" y="587.03" width="1.2" height="1.2" fill="#24437f"/>
<rect x="303.60" y="588.43" width="1.2" height="1.2" fill="#24437f"/>
<rect x="303.60" y="591.23" width="1.2" height="1.2" fill="#24437f"/>
<rect x="303.60" y="592.63" width="1.2" height="1.2" fill="#24437f"/>
<rect x="306.20" y="530.81" width="1.2" height="1.2" fill="#24437f"/>
<rect x="306.20" y="532.21" width="1.2" height="1.2" fill="#24437f"/>
<rect x="306.20" y="535.01" width="1.2" height="1.2" fill="#24437f"/>
<rect x="306.20" y="536.41" width="1.2" height="1.2" fill="#24437f"/>
<rect x="306.20" y="537.81" width="1.2" height="1.2" fill="#24437f"/>
<rect x="306.20" y="539.21" width="1.2" height="1.2" fill="#24437f"/>
<rect x="306.20" y="540.61" width="1.2" height="1.2" fill="#24437f"/>
<rect x="306.20" y="542.01" width="1.2" height="1.2" fill="#24437f"/>
<rect x="306.20" y="543.41" width="1.2" height="1.2" fill="#24437f"/>
<rect x="306.20" y="544.81" width="1.2" height="1.2" fill="#24437f"/>
<rect x="306.20" y="547.61" width="1.2" height="1.2" fill="#24437f"/>
<rect x="306.20" y="550.41" width="1.2" height="1.2" fill="#24437f"/>
<rect x="306.20" y="556.01" width="1.2" height="1.2" fill="#24437f"/>
<rect x="306.20" y="557.41" width="1.2" height="1.2" fill="#24437f"/>
<rect x="306.20" y="558.81" width="1.2" height="1.2" fill="#24437f"/>
<rect x="306.20" y="560.21" width="1.2" height="1.2" fill="#24437f"/>
<rect x="306.20" y="561.61" width="1.2" height="1.2" fill="#24437f"/>
<rect x="306.20" y="563.01" width="1.2" height="1.2" fill="#24437f"/>
<rect x="306.20" y="564.41" width="1.2" height="1.2" fill="#24437f"/>
<rect x="306.20" y="565.81" width="1.2" height="1.2" fill="#24437f"/>
<rect x="306.20" y="568.61" width="1.2" height="1.2" fill="#24437f"/>
<rect x="306.20" y="570.01" width="1.2" height="1.2" fill="#24437f"/>
<rect x="306.20" y="571.41" width="1.2" height="1.2" fill="#24437f"/>
<rect x="306.20" y="574.21" width="1.2" height="1.2" fill="#24437f"/>
<rect x="306.20" y="575.61" width="1.2" height="1.2" fill="#24437f"/>
<rect x="306.20" y="577.01" width="1.2" height="1.2" fill="#24437f"/>
<rect x="306.20" y="578.41" width="1.2" height="1.2" fill="#24437f"/>
<rect x="306.20" y="579.81" width="1.2" height="1.2" fill="#24437f"/>
<rect x="306.20" y="582.61" width="1.2" height="1.2" fill="#24437f"/>
<rect x="306.20" y="584.01" width="1.2" height="1.2" fill="#24437f"/>
<rect x="306.20" y="589.61" width="1.2" height="1.2" fill="#24437f"/>
<rect x="306.20" y="591.01" width="1.2" height="1.2" fill="#24437f"/>
<rect x="306.20" y="593.81" width="1.2" height="1.2" fill="#24437f"/>
<rect x="306.20" y="595.21" width="1.2" height="1.2" fill="#24437f"/>
<rect x="306.20" y="596.61" width="1.2" height="1.2" fill="#24437f"/>
<rect x="308.80" y="528.14" width="1.2" height="1.2" fill="#24437f"/>
<rect x="308.80" y="529.54" width="1.2" height="1.2" fill="#24437f"/>
<rect x="308.80" y="532.34" width="1.2" height="1.2" fill="#24437f"/>
<rect x="308.80" y="533.74" width="1.2" height="1.2" fill="#24437f"/>
<rect x="308.80" y="535.14" width="1.2" height="1.2" fill="#24437f"/>
<rect x="308.80" y="536.54" width="1.2" height="1.2" fill="#24437f"/>
<rect x="308.80" y="537.94" width="1.2" height="1.2" fill="#24437f"/>
<rect x="308.80" y="542.14" width="1.2" height="1.2" fill="#24437f"/>
<rect x="308.80" y="544.94" width="1.2" height="1.2" fill="#24437f"/>
<rect x="308.80" y="546.34" width="1.2" height="1.2" fill="#24437f"/>
<rect x="308.80" y="547.74" width="1.2" height="1.2" fill="#24437f"/>
<rect x="308.80" y="550.54" width="1.2" height="1.2" fill="#24437f"/>
<rect x="308.80" y="551.94" width="1.2" height="1.2" fill="#24437f"/>
<rect x="308.80" y="553.34" width="1.2" height="1.2" fill="#24437f"/>
<rect x="308.80" y="554.74" width="1.2" height="1.2" fill="#24437f"/>
<rect x="308.80" y="556.14" width="1.2" height="1.2" fill="#24437f"/>
<rect x="308.80" y="557.54" width="1.2" height="1.2" fill="#24437f"/>
<rect x="308.80" y="558.94" width="1.2" height="1.2" fill="#24437f"/>
<rect x="308.80" y="560.34" width="1.2" height="1.2" fill="#24437f"/>
<rect x="308.80" y="561.74" width="1.2" height="1.2" fill="#24437f"/>
<rect x="308.80" y="563.14" width="1.2" height="1.2" fill="#24437f"/>
<rect x="308.80" y="564.54" width="1.2" height="1.2" fill="#24437f"/>
<rect x="308.80" y="565.94" width="1.2" height="1.2" fill="#24437f"/>
<rect x="308.80" y="567.34" width="1.2" height="1.2" fill="#24437f"/>
<rect x="308.80" y="568.74" width="1.2" height="1.2" fill="#24437f"/>
<rect x="308.80" y="571.54" width="1.2" height="1.2" fill="#24437f"/>
<rect x="308.80" y="572.94" width="1.2" height="1.2" fill="#24437f"/>
<rect x="308.80" y="574.34" width="1.2" height="1.2" fill="#24437f"/>
<rect x="308.80" y="575.74" width="1.2" height="1.2" fill="#24437f"/>
<rect x="308.80" y="577.14" width="1.2" height="1.2" fill="#24437f"/>
<rect x="308.80" y="578.54" width="1.2" height="1.2" fill="#24437f"/>
<rect x="308.80" y="579.94" width="1.2" height="1.2" fill="#24437f"/>
<rect x="308.80" y="581.34" width="1.2" height="1.2" fill="#24437f"/>
<rect x="308.80" y="582.74" width="1.2" height="1.2" fill="#24437f"/>
<rect x="308.80" y="584.14" width="1.2" height="1.2" fill="#24437f"/>
<rect x="308.80" y="585.54" width="1.2" height="1.2" fill="#24437f"/>
<rect x="308.80" y="586.94" width="1.2" height="1.2" fill="#24437f"/>
<rect x="308.80" y="588.34" width="1.2" height="1.2" fill="#24437f"/>
<rect x="308.80" y="589.74" width="1.2" height="1.2" fill="#24437f"/>
<rect x="308.80" y="593.94" width="1.2" height="1.2" fill="#24437f"/>
<rect x="311.40" y="548.77" width="1.2" height="1.2" fill="#24437f"/>
<rect x="311.40" y="550.17" width="1.2" height="1.2" fill="#24437f"/>
<rect x="311.40" y="561.37" width="1.2" height="1.2" fill="#24437f"/>
<rect x="311.40" y="564.17" width="1.2" height="1.2" fill="#24437f"/>
<rect x="311.40" y="565.57" width="1.2" height="1.2" fill="#24437f"/>
<rect x="311.40" y="566.97" width="1.2" height="1.2" fill="#24437f"/>
<rect x="311.40" y="568.37" width="1.2" height="1.2" fill="#24437f"/>
<rect x="311.40" y="569.77" width="1.2" height="1.2" fill="#24437f"/>
<rect x="311.40" y="571.17" width="1.2" height="1.2" fill="#24437f"/>
<rect x="311.40" y="573.97" width="1.2" height="1.2" fill="#24437f"/>
<rect x="311.40" y="575.37" width="1.2" height="1.2" fill="#24437f"/>
<rect x="311.40" y="578.17" width="1.2" height="1.2" fill="#24437f"/>
<rect x="311.40" y="580.97" width="1.2" height="1.2" fill="#24437f"/>
<rect x="311.40" y="585.17" width="1.2" height="1.2" fill="#24437f"/>
<rect x="311.40" y="586.57" width="1.2" height="1.2" fill="#24437f"/>
<rect x="311.40" y="587.97" width="1.2" height="1.2" fill="#24437f"/>
<rect x="311.40" y="589.37" width="1.2" height="1.2" fill="#24437f"/>
<rect x="311.40" y="593.57" width="1.2" height="1.2" fill="#24437f"/>
<rect x="314.00" y="555.31" width="1.2" height="1.2" fill="#24437f"/>
<rect x="314.00" y="556.71" width="1.2" height="1.2" fill="#24437f"/>
<rect x="314.00" y="560.91" width="1.2" height="1.2" fill="#24437f"/>
<rect x="314.00" y="562.31" width="1.2" height="1.2" fill="#24437f"/>
<rect x="314.00" y="563.71" width="1.2" height="1.2" fill="#24437f"/>
<rect x="314.00" y="567.91" width="1.2" height="1.2" fill="#24437f"/>
<rect x="314.00" y="569.31" width="1.2" height="1.2" fill="#24437f"/>
<rect x="314.00" y="570.71" width="1.2" height="1.2" fill="#24437f"/>
<rect x="314.00" y="572.11" width="1.2" height="1.2" fill="#24437f"/>
<rect x="314.00" y="573.51" width="1.2" height="1.2" fill="#24437f"/>
<rect x="314.00" y="574.91" width="1.2" height="1.2" fill="#24437f"/>
<rect x="314.00" y="576.31" width="1.2" height="1.2" fill="#24437f"/>
<rect x="314.00" y="579.11" width="1.2" height="1.2" fill="#24437f"/>
<rect x="314.00" y="580.51" width="1.2" height="1.2" fill="#24437f"/>
<rect x="314.00" y="581.91" width="1.2" height="1.2" fill="#24437f"/>
<rect x="314.00" y="583.31" width="1.2" height="1.2" fill="#24437f"/>
<rect x="314.00" y="584.71" width="1.2" height="1.2" fill="#24437f"/>
<rect x="314.00" y="586.11" width="1.2" height="1.2" fill="#24437f"/>
<rect x="314.00" y="587.51" width="1.2" height="1.2" fill="#24437f"/>
<rect x="314.00" y="588.91" width="1.2" height="1.2" fill="#24437f"/>
<rect x="316.60" y="566.81" width="1.2" height="1.2" fill="#24437f"/>
<rect x="316.60" y="572.41" width="1.2" height="1.2" fill="#24437f"/>
<rect x="316.60" y="575.21" width="1.2" height="1.2" fill="#24437f"/>
<rect x="316.60" y="576.61" width="1.2" height="1.2" fill="#24437f"/>
<rect x="316.60" y="578.01" width="1.2" height="1.2" fill="#24437f"/>
<rect x="316.60" y="580.81" width="1.2" height="1.2" fill="#24437f"/>
<rect x="316.60" y="582.21" width="1.2" height="1.2" fill="#24437f"/>
<rect x="316.60" y="586.41" width="1.2" height="1.2" fill="#24437f"/>
<rect x="316.60" y="589.21" width="1.2" height="1.2" fill="#24437f"/>
<rect x="319.20" y="570.60" width="1.2" height="1.2" fill="#24437f"/>
<rect x="319.20" y="572.00" width="1.2" height="1.2" fill="#24437f"/>
<rect x="319.20" y="573.40" width="1.2" height="1.2" fill="#24437f"/>
<rect x="319.20" y="574.80" width="1.2" height="1.2" fill="#24437f"/>
<rect x="319.20" y="576.20" width="1.2" height="1.2" fill="#24437f"/>
<rect x="319.20" y="577.60" width="1.2" height="1.2" fill="#24437f"/>
<rect x="319.20" y="579.00" width="1.2" height="1.2" fill="#24437f"/>
<rect x="319.20" y="580.40" width="1.2" height="1.2" fill="#24437f"/>
<rect x="319.20" y="583.20" width="1.2" height="1.2" fill="#24437f"/>
<rect x="319.20" y="586.00" width="1.2" height="1.2" fill="#24437f"/>
<rect x="305.00" y="604.60" width="1.2" height="1.2" fill="#24437f"/>
<line x1="305.50" y1="558.20" x2="305.50" y2="583.00" stroke="#3a3a3a" stroke-width="1.2" />
<line x1="296.50" y1="558.20" x2="314.50" y2="558.20" stroke="#3a3a3a" stroke-width="1.4" />
<line x1="296.50" y1="583.00" x2="314.50" y2="583.00" stroke="#3a3a3a" stroke-width="1.4" />
<line x1="288.05" y1="572.80" x2="322.95" y2="572.80" stroke="#333" stroke-width="1.4" />
<text x="356.10" y="515.52" font-size="11" text-anchor="start" font-weight="bold" fill="#000" >G</text>
<rect x="384.40" y="596.00" width="128.00" height="26.60" fill="#dfe7cf" />
<line x1="385.70" y1="596.80" x2="385.70" y2="621.60" stroke="#f0f8e0" stroke-width="0.9" />
<line x1="385.40" y1="621.30" x2="512.40" y2="621.30" stroke="#f0f8e0" stroke-width="0.9" />
<line x1="384.40" y1="596.00" x2="512.40" y2="596.00" stroke="#333" stroke-width="1.2" stroke-dasharray="2.9 2.3"/>
<line x1="381.20" y1="622.60" x2="384.40" y2="622.60" stroke="#383838" stroke-width="1.1" />
<text x="378.40" y="625.55" font-size="8.2" text-anchor="end" font-weight="normal" fill="#1a1a1a" >0</text>
<line x1="381.20" y1="606.17" x2="384.40" y2="606.17" stroke="#383838" stroke-width="1.1" />
<text x="378.40" y="609.12" font-size="8.2" text-anchor="end" font-weight="normal" fill="#1a1a1a" >10</text>
<line x1="381.20" y1="589.74" x2="384.40" y2="589.74" stroke="#383838" stroke-width="1.1" />
<text x="378.40" y="592.69" font-size="8.2" text-anchor="end" font-weight="normal" fill="#1a1a1a" >20</text>
<line x1="381.20" y1="573.31" x2="384.40" y2="573.31" stroke="#383838" stroke-width="1.1" />
<text x="378.40" y="576.26" font-size="8.2" text-anchor="end" font-weight="normal" fill="#1a1a1a" >30</text>
<line x1="381.20" y1="556.88" x2="384.40" y2="556.88" stroke="#383838" stroke-width="1.1" />
<text x="378.40" y="559.83" font-size="8.2" text-anchor="end" font-weight="normal" fill="#1a1a1a" >40</text>
<line x1="381.20" y1="540.45" x2="384.40" y2="540.45" stroke="#383838" stroke-width="1.1" />
<text x="378.40" y="543.40" font-size="8.2" text-anchor="end" font-weight="normal" fill="#1a1a1a" >50</text>
<line x1="381.20" y1="524.02" x2="384.40" y2="524.02" stroke="#383838" stroke-width="1.1" />
<text x="378.40" y="526.97" font-size="8.2" text-anchor="end" font-weight="normal" fill="#1a1a1a" >60</text>
<line x1="384.40" y1="521.10" x2="384.40" y2="623.40" stroke="#383838" stroke-width="1.7" />
<line x1="383.60" y1="622.60" x2="512.40" y2="622.60" stroke="#383838" stroke-width="1.7" />
<text transform="translate(364.07,571.70) rotate(-90) scale(0.74,1)" font-size="8.8" text-anchor="middle" fill="#1a1a1a" style="stroke-width:0.4px">PAI-1 (U/mL)</text>
<line x1="420.60" y1="622.60" x2="420.60" y2="625.00" stroke="#383838" stroke-width="1.0" />
<text transform="translate(420.60,636.40) scale(0.91,1)" font-size="8.6" text-anchor="middle" font-weight="normal" fill="#1a1a1a">Severe</text>
<text transform="translate(420.60,645.10) scale(0.91,1)" font-size="8.6" text-anchor="middle" font-weight="normal" fill="#1a1a1a">COVID-19</text>
<line x1="475.40" y1="622.60" x2="475.40" y2="625.00" stroke="#383838" stroke-width="1.0" />
<text transform="translate(475.40,636.40) scale(0.91,1)" font-size="8.6" text-anchor="middle" font-weight="normal" fill="#1a1a1a">Septic</text>
<text transform="translate(475.40,645.10) scale(0.91,1)" font-size="8.6" text-anchor="middle" font-weight="normal" fill="#1a1a1a">shock</text>
<line x1="420.50" y1="531.40" x2="475.10" y2="531.40" stroke="#3a3a3a" stroke-width="1.3" />
<circle cx="445.00" cy="527.70" r="1.05" fill="#222"/>
<circle cx="447.90" cy="527.70" r="1.05" fill="#222"/>
<circle cx="450.80" cy="527.70" r="1.05" fill="#222"/>
<line x1="420.50" y1="575.70" x2="420.50" y2="607.40" stroke="#383838" stroke-width="1.3" />
<line x1="412.30" y1="575.70" x2="429.20" y2="575.70" stroke="#383838" stroke-width="1.5" />
<circle cx="419.60" cy="540.40" r="0.9" fill="#183670"/>
<circle cx="421.40" cy="540.40" r="0.9" fill="#183670"/>
<circle cx="420.50" cy="542.50" r="0.9" fill="#183670"/>
<circle cx="420.50" cy="547.70" r="0.9" fill="#183670"/>
<circle cx="420.50" cy="555.00" r="0.9" fill="#183670"/>
<circle cx="420.50" cy="557.70" r="0.9" fill="#183670"/>
<circle cx="420.50" cy="568.00" r="0.9" fill="#183670"/>
<circle cx="420.50" cy="575.00" r="0.9" fill="#183670"/>
<circle cx="416.50" cy="604.90" r="0.9" fill="#183670"/>
<circle cx="428.10" cy="605.20" r="0.9" fill="#183670"/>
<circle cx="403.60" cy="607.40" r="1.0" fill="#183670"/>
<circle cx="406.70" cy="607.40" r="1.0" fill="#183670"/>
<circle cx="409.80" cy="607.40" r="1.0" fill="#183670"/>
<circle cx="412.90" cy="607.40" r="1.0" fill="#183670"/>
<circle cx="416.00" cy="607.40" r="1.0" fill="#183670"/>
<circle cx="419.10" cy="607.40" r="1.0" fill="#183670"/>
<circle cx="422.20" cy="607.40" r="1.0" fill="#183670"/>
<circle cx="425.30" cy="607.40" r="1.0" fill="#183670"/>
<circle cx="428.40" cy="607.40" r="1.0" fill="#183670"/>
<circle cx="431.50" cy="607.40" r="1.0" fill="#183670"/>
<circle cx="434.60" cy="607.40" r="1.0" fill="#183670"/>
<circle cx="437.70" cy="607.40" r="1.0" fill="#183670"/>
<line x1="403.20" y1="607.40" x2="438.10" y2="607.40" stroke="#183670" stroke-width="1.3" />
<polyline fill="none" stroke="#183670" stroke-width="1.6" points="457.3,541.0 462,540.2 466,540.8 470,540.0 474,541.2 478,540.2 482,540.6 487,540.1 493.9,540.5"/>
<line x1="475.30" y1="543.20" x2="475.30" y2="586.00" stroke="#383838" stroke-width="0.8" />
<circle cx="475.40" cy="570.18" r="0.85" fill="#183670"/>
<circle cx="475.24" cy="600.61" r="0.85" fill="#183670"/>
<circle cx="475.59" cy="573.76" r="0.85" fill="#183670"/>
<circle cx="475.62" cy="552.91" r="0.85" fill="#183670"/>
<circle cx="476.76" cy="581.63" r="0.85" fill="#183670"/>
<circle cx="474.49" cy="547.07" r="0.85" fill="#183670"/>
<circle cx="477.24" cy="546.85" r="0.85" fill="#183670"/>
<circle cx="473.58" cy="585.73" r="0.85" fill="#183670"/>
<circle cx="475.86" cy="604.35" r="0.85" fill="#183670"/>
<circle cx="476.03" cy="583.18" r="0.85" fill="#183670"/>
<circle cx="473.28" cy="551.16" r="0.85" fill="#183670"/>
<circle cx="473.49" cy="575.08" r="0.85" fill="#183670"/>
<circle cx="474.43" cy="553.27" r="0.85" fill="#183670"/>
<circle cx="475.25" cy="542.94" r="0.85" fill="#183670"/>
<circle cx="476.25" cy="569.41" r="0.85" fill="#183670"/>
<circle cx="475.83" cy="574.48" r="0.85" fill="#183670"/>
<circle cx="475.82" cy="573.24" r="0.85" fill="#183670"/>
<circle cx="474.55" cy="570.50" r="0.85" fill="#183670"/>
<circle cx="476.27" cy="595.19" r="0.85" fill="#183670"/>
<circle cx="474.46" cy="561.34" r="0.85" fill="#183670"/>
<circle cx="473.89" cy="559.64" r="0.85" fill="#183670"/>
<circle cx="475.14" cy="590.43" r="0.85" fill="#183670"/>
<circle cx="475.03" cy="595.60" r="0.85" fill="#183670"/>
<circle cx="475.86" cy="602.79" r="0.85" fill="#183670"/>
<circle cx="473.67" cy="541.04" r="0.85" fill="#183670"/>
<circle cx="475.26" cy="599.71" r="0.85" fill="#183670"/>
<circle cx="475.10" cy="604.23" r="0.85" fill="#183670"/>
<circle cx="476.26" cy="545.71" r="0.85" fill="#183670"/>
<circle cx="474.57" cy="591.21" r="0.85" fill="#183670"/>
<circle cx="474.62" cy="546.62" r="0.85" fill="#183670"/>
<circle cx="475.67" cy="603.18" r="0.85" fill="#183670"/>
<circle cx="474.26" cy="548.61" r="0.85" fill="#183670"/>
<circle cx="473.20" cy="547.52" r="0.85" fill="#183670"/>
<circle cx="474.16" cy="592.41" r="0.85" fill="#183670"/>
<circle cx="475.12" cy="577.07" r="0.85" fill="#183670"/>
<circle cx="476.57" cy="553.30" r="0.85" fill="#183670"/>
<circle cx="476.30" cy="549.45" r="0.85" fill="#183670"/>
<circle cx="475.16" cy="548.51" r="0.85" fill="#183670"/>
<circle cx="474.59" cy="554.73" r="0.85" fill="#183670"/>
<circle cx="475.71" cy="603.62" r="0.85" fill="#183670"/>
<circle cx="476.69" cy="560.62" r="0.85" fill="#183670"/>
<circle cx="475.10" cy="554.59" r="0.85" fill="#183670"/>
<circle cx="475.95" cy="596.11" r="0.85" fill="#183670"/>
<circle cx="478.18" cy="547.47" r="0.85" fill="#183670"/>
<circle cx="474.54" cy="554.75" r="0.85" fill="#183670"/>
<circle cx="474.83" cy="590.84" r="0.85" fill="#183670"/>
<circle cx="473.91" cy="560.11" r="0.85" fill="#183670"/>
<circle cx="476.00" cy="546.81" r="0.85" fill="#183670"/>
<circle cx="475.88" cy="556.67" r="0.85" fill="#183670"/>
<circle cx="475.13" cy="564.97" r="0.85" fill="#183670"/>
<circle cx="475.23" cy="602.86" r="0.85" fill="#183670"/>
<circle cx="476.99" cy="578.06" r="0.85" fill="#183670"/>
<circle cx="474.03" cy="552.79" r="0.85" fill="#183670"/>
<circle cx="476.14" cy="599.59" r="0.85" fill="#183670"/>
<circle cx="474.29" cy="557.09" r="0.85" fill="#183670"/>
<circle cx="477.47" cy="588.69" r="0.85" fill="#183670"/>
<circle cx="477.49" cy="553.68" r="0.85" fill="#183670"/>
<circle cx="475.70" cy="597.90" r="0.85" fill="#183670"/>
<circle cx="474.05" cy="568.18" r="0.85" fill="#183670"/>
<circle cx="478.15" cy="543.50" r="0.85" fill="#183670"/>
<circle cx="476.30" cy="556.38" r="0.85" fill="#183670"/>
<circle cx="476.69" cy="557.58" r="0.85" fill="#183670"/>
<circle cx="474.52" cy="579.47" r="0.85" fill="#183670"/>
<circle cx="476.57" cy="552.32" r="0.85" fill="#183670"/>
<circle cx="473.99" cy="545.44" r="0.85" fill="#183670"/>
<circle cx="476.91" cy="577.08" r="0.85" fill="#183670"/>
<circle cx="474.49" cy="580.62" r="0.85" fill="#183670"/>
<circle cx="474.63" cy="600.17" r="0.85" fill="#183670"/>
<circle cx="474.08" cy="542.07" r="0.85" fill="#183670"/>
<circle cx="473.90" cy="569.75" r="0.85" fill="#183670"/>
<circle cx="474.98" cy="552.37" r="0.85" fill="#183670"/>
<circle cx="473.75" cy="577.90" r="0.85" fill="#183670"/>
<circle cx="476.44" cy="564.36" r="0.85" fill="#183670"/>
<circle cx="475.45" cy="604.24" r="0.85" fill="#183670"/>
<circle cx="475.93" cy="585.58" r="0.85" fill="#183670"/>
<circle cx="473.29" cy="550.05" r="0.85" fill="#183670"/>
<circle cx="477.84" cy="542.15" r="0.85" fill="#183670"/>
<circle cx="477.57" cy="586.21" r="0.85" fill="#183670"/>
<circle cx="476.24" cy="542.37" r="0.85" fill="#183670"/>
<circle cx="475.95" cy="572.10" r="0.85" fill="#183670"/>
<circle cx="477.00" cy="561.57" r="0.85" fill="#183670"/>
<circle cx="475.79" cy="545.85" r="0.85" fill="#183670"/>
<circle cx="477.30" cy="588.54" r="0.85" fill="#183670"/>
<circle cx="476.46" cy="588.54" r="0.85" fill="#183670"/>
<circle cx="477.31" cy="592.17" r="0.85" fill="#183670"/>
<circle cx="475.86" cy="563.69" r="0.85" fill="#183670"/>
<circle cx="476.34" cy="599.10" r="0.85" fill="#183670"/>
<circle cx="476.08" cy="567.91" r="0.85" fill="#183670"/>
<circle cx="475.67" cy="596.69" r="0.85" fill="#183670"/>
<circle cx="474.96" cy="581.31" r="0.85" fill="#183670"/>
<circle cx="475.88" cy="578.58" r="0.85" fill="#183670"/>
<circle cx="476.31" cy="546.17" r="0.85" fill="#183670"/>
<circle cx="476.10" cy="597.75" r="0.85" fill="#183670"/>
<circle cx="475.93" cy="566.05" r="0.85" fill="#183670"/>
<circle cx="475.13" cy="578.47" r="0.85" fill="#183670"/>
<circle cx="473.84" cy="595.07" r="0.85" fill="#183670"/>
<circle cx="473.56" cy="589.39" r="0.85" fill="#183670"/>
<circle cx="475.35" cy="579.78" r="0.85" fill="#183670"/>
<circle cx="476.30" cy="555.85" r="0.85" fill="#183670"/>
<circle cx="475.65" cy="573.07" r="0.85" fill="#183670"/>
<circle cx="474.76" cy="600.37" r="0.85" fill="#183670"/>
<circle cx="474.25" cy="541.73" r="0.85" fill="#183670"/>
<circle cx="474.26" cy="584.74" r="0.85" fill="#183670"/>
<circle cx="477.44" cy="551.94" r="0.85" fill="#183670"/>
<circle cx="475.28" cy="583.57" r="0.85" fill="#183670"/>
<circle cx="474.88" cy="598.52" r="0.85" fill="#183670"/>
<circle cx="474.23" cy="583.95" r="0.85" fill="#183670"/>
<circle cx="476.13" cy="568.79" r="0.85" fill="#183670"/>
<circle cx="476.24" cy="599.97" r="0.85" fill="#183670"/>
<circle cx="475.49" cy="565.80" r="0.85" fill="#183670"/>
<circle cx="474.15" cy="561.41" r="0.85" fill="#183670"/>
<circle cx="476.40" cy="573.02" r="0.85" fill="#183670"/>
<circle cx="476.24" cy="595.74" r="0.85" fill="#183670"/>
<circle cx="474.86" cy="602.28" r="0.85" fill="#183670"/>
<circle cx="475.35" cy="551.91" r="0.85" fill="#183670"/>
<circle cx="474.39" cy="558.75" r="0.85" fill="#183670"/>
<circle cx="475.60" cy="567.70" r="0.85" fill="#183670"/>
<circle cx="474.63" cy="572.85" r="0.85" fill="#183670"/>
<circle cx="477.35" cy="595.12" r="0.85" fill="#183670"/>
<circle cx="473.94" cy="570.18" r="0.85" fill="#183670"/>
<circle cx="477.63" cy="543.03" r="0.85" fill="#183670"/>
<circle cx="476.68" cy="543.68" r="0.85" fill="#183670"/>
<circle cx="474.53" cy="577.80" r="0.85" fill="#183670"/>
<circle cx="473.49" cy="592.05" r="0.85" fill="#183670"/>
<circle cx="475.35" cy="549.76" r="0.85" fill="#183670"/>
<circle cx="477.37" cy="542.59" r="0.85" fill="#183670"/>
<circle cx="474.09" cy="556.31" r="0.85" fill="#183670"/>
<circle cx="476.23" cy="544.03" r="0.85" fill="#183670"/>
<circle cx="475.61" cy="569.80" r="0.85" fill="#183670"/>
<circle cx="476.86" cy="583.25" r="0.85" fill="#183670"/>
<circle cx="475.58" cy="602.82" r="0.85" fill="#183670"/>
<circle cx="475.45" cy="553.86" r="0.85" fill="#183670"/>
<circle cx="473.37" cy="552.53" r="0.85" fill="#183670"/>
<circle cx="475.88" cy="571.46" r="0.85" fill="#183670"/>
<circle cx="474.55" cy="552.55" r="0.85" fill="#183670"/>
<circle cx="475.91" cy="563.30" r="0.85" fill="#183670"/>
<circle cx="475.74" cy="574.57" r="0.85" fill="#183670"/>
<circle cx="475.12" cy="589.78" r="0.85" fill="#183670"/>
<circle cx="477.28" cy="592.08" r="0.85" fill="#183670"/>
<circle cx="477.93" cy="546.63" r="0.85" fill="#183670"/>
<circle cx="473.98" cy="587.59" r="0.85" fill="#183670"/>
<circle cx="475.60" cy="570.25" r="0.85" fill="#183670"/>
<circle cx="475.03" cy="599.69" r="0.85" fill="#183670"/>
<circle cx="477.04" cy="577.69" r="0.85" fill="#183670"/>
<circle cx="477.43" cy="592.39" r="0.85" fill="#183670"/>
<circle cx="475.69" cy="570.91" r="0.85" fill="#183670"/>
<circle cx="476.48" cy="554.22" r="0.85" fill="#183670"/>
<circle cx="476.11" cy="593.78" r="0.85" fill="#183670"/>
<circle cx="474.34" cy="587.29" r="0.85" fill="#183670"/>
<circle cx="476.64" cy="599.05" r="0.85" fill="#183670"/>
<circle cx="475.29" cy="604.04" r="0.85" fill="#183670"/>
<circle cx="474.78" cy="592.01" r="0.85" fill="#183670"/>
<circle cx="476.22" cy="599.69" r="0.85" fill="#183670"/>
<circle cx="474.02" cy="563.48" r="0.85" fill="#183670"/>
<circle cx="475.37" cy="569.44" r="0.85" fill="#183670"/>
<circle cx="475.51" cy="590.55" r="0.85" fill="#183670"/>
<circle cx="477.25" cy="542.83" r="0.85" fill="#183670"/>
<circle cx="477.21" cy="545.13" r="0.85" fill="#183670"/>
<circle cx="474.82" cy="552.15" r="0.85" fill="#183670"/>
<circle cx="474.01" cy="591.82" r="0.85" fill="#183670"/>
<circle cx="475.66" cy="550.59" r="0.85" fill="#183670"/>
<circle cx="477.04" cy="587.67" r="0.85" fill="#183670"/>
<circle cx="477.49" cy="585.46" r="0.85" fill="#183670"/>
<circle cx="476.74" cy="572.77" r="0.85" fill="#183670"/>
<circle cx="474.01" cy="546.55" r="0.85" fill="#183670"/>
<circle cx="474.44" cy="574.97" r="0.85" fill="#183670"/>
<circle cx="476.18" cy="588.01" r="0.85" fill="#183670"/>
<circle cx="476.66" cy="574.72" r="0.85" fill="#183670"/>
<circle cx="474.52" cy="577.12" r="0.85" fill="#183670"/>
<circle cx="476.26" cy="565.59" r="0.85" fill="#183670"/>
<circle cx="474.58" cy="599.08" r="0.85" fill="#183670"/>
<circle cx="477.17" cy="595.87" r="0.85" fill="#183670"/>
<circle cx="475.58" cy="574.81" r="0.85" fill="#183670"/>
<circle cx="475.70" cy="553.96" r="0.85" fill="#183670"/>
<circle cx="475.64" cy="573.45" r="0.85" fill="#183670"/>
<circle cx="478.19" cy="542.79" r="0.85" fill="#183670"/>
<circle cx="474.90" cy="574.28" r="0.85" fill="#183670"/>
<circle cx="475.80" cy="592.67" r="0.85" fill="#183670"/>
<circle cx="475.88" cy="572.67" r="0.85" fill="#183670"/>
<circle cx="475.74" cy="545.25" r="0.85" fill="#183670"/>
<circle cx="476.58" cy="567.69" r="0.85" fill="#183670"/>
<circle cx="474.79" cy="600.56" r="0.85" fill="#183670"/>
<circle cx="474.10" cy="571.52" r="0.85" fill="#183670"/>
<circle cx="476.16" cy="568.97" r="0.85" fill="#183670"/>
<circle cx="475.29" cy="599.09" r="0.85" fill="#183670"/>
<circle cx="474.33" cy="561.46" r="0.85" fill="#183670"/>
<circle cx="477.32" cy="580.85" r="0.85" fill="#183670"/>
<circle cx="476.98" cy="549.35" r="0.85" fill="#183670"/>
<circle cx="473.65" cy="542.47" r="0.85" fill="#183670"/>
<circle cx="476.26" cy="555.66" r="0.85" fill="#183670"/>
<circle cx="474.87" cy="561.77" r="0.85" fill="#183670"/>
<circle cx="473.74" cy="580.97" r="0.85" fill="#183670"/>
<circle cx="473.96" cy="588.14" r="0.85" fill="#183670"/>
<circle cx="474.34" cy="573.93" r="0.85" fill="#183670"/>
<circle cx="475.68" cy="553.75" r="0.85" fill="#183670"/>
<circle cx="474.85" cy="569.17" r="0.85" fill="#183670"/>
<circle cx="475.31" cy="567.66" r="0.85" fill="#183670"/>
<circle cx="474.19" cy="551.30" r="0.85" fill="#183670"/>
<circle cx="476.09" cy="581.72" r="0.85" fill="#183670"/>
<circle cx="476.75" cy="575.16" r="0.85" fill="#183670"/>
<circle cx="477.01" cy="580.46" r="0.85" fill="#183670"/>
<circle cx="476.46" cy="556.01" r="0.85" fill="#183670"/>
<circle cx="477.23" cy="593.28" r="0.85" fill="#183670"/>
<circle cx="474.74" cy="561.37" r="0.85" fill="#183670"/>
<circle cx="474.68" cy="600.52" r="0.85" fill="#183670"/>
<circle cx="474.31" cy="598.25" r="0.85" fill="#183670"/>
<circle cx="476.38" cy="556.44" r="0.85" fill="#183670"/>
<circle cx="473.95" cy="557.74" r="0.85" fill="#183670"/>
<circle cx="475.17" cy="594.67" r="0.85" fill="#183670"/>
<circle cx="473.95" cy="591.95" r="0.85" fill="#183670"/>
<circle cx="475.78" cy="566.98" r="0.85" fill="#183670"/>
<circle cx="473.68" cy="542.15" r="0.85" fill="#183670"/>
<circle cx="477.34" cy="585.01" r="0.85" fill="#183670"/>
<circle cx="474.65" cy="603.46" r="0.85" fill="#183670"/>
<circle cx="476.20" cy="573.62" r="0.85" fill="#183670"/>
<circle cx="475.92" cy="573.43" r="0.85" fill="#183670"/>
<circle cx="473.68" cy="553.19" r="0.85" fill="#183670"/>
<circle cx="473.11" cy="547.85" r="0.85" fill="#183670"/>
<circle cx="475.40" cy="576.58" r="0.85" fill="#183670"/>
<circle cx="473.81" cy="577.68" r="0.85" fill="#183670"/>
<circle cx="474.25" cy="552.90" r="0.85" fill="#183670"/>
<circle cx="477.37" cy="595.19" r="0.85" fill="#183670"/>
<circle cx="474.42" cy="600.78" r="0.85" fill="#183670"/>
<circle cx="478.07" cy="545.00" r="0.85" fill="#183670"/>
<circle cx="476.03" cy="570.80" r="0.85" fill="#183670"/>
<circle cx="475.23" cy="562.08" r="0.85" fill="#183670"/>
<circle cx="475.01" cy="574.24" r="0.85" fill="#183670"/>
<circle cx="473.30" cy="579.76" r="0.85" fill="#183670"/>
<circle cx="477.06" cy="586.22" r="0.85" fill="#183670"/>
<circle cx="475.36" cy="552.69" r="0.85" fill="#183670"/>
<circle cx="475.17" cy="588.69" r="0.85" fill="#183670"/>
<circle cx="474.11" cy="553.59" r="0.85" fill="#183670"/>
<circle cx="473.45" cy="574.06" r="0.85" fill="#183670"/>
<circle cx="476.22" cy="598.61" r="0.85" fill="#183670"/>
<circle cx="477.13" cy="586.45" r="0.85" fill="#183670"/>
<circle cx="475.07" cy="581.60" r="0.85" fill="#183670"/>
<circle cx="475.45" cy="579.67" r="0.85" fill="#183670"/>
<circle cx="475.64" cy="604.38" r="0.85" fill="#183670"/>
<circle cx="477.01" cy="557.66" r="0.85" fill="#183670"/>
<circle cx="476.77" cy="589.02" r="0.85" fill="#183670"/>
<circle cx="475.11" cy="593.54" r="0.85" fill="#183670"/>
<circle cx="476.40" cy="598.83" r="0.85" fill="#183670"/>
<circle cx="476.72" cy="585.81" r="0.85" fill="#183670"/>
<circle cx="475.16" cy="590.36" r="0.85" fill="#183670"/>
<circle cx="473.73" cy="587.61" r="0.85" fill="#183670"/>
<circle cx="475.21" cy="563.04" r="0.85" fill="#183670"/>
<line x1="471.80" y1="607.40" x2="480.00" y2="607.40" stroke="#183670" stroke-width="1.5" />
<line x1="466.20" y1="543.20" x2="484.00" y2="543.20" stroke="#3a3a3a" stroke-width="1.5" />
<line x1="457.40" y1="559.10" x2="492.80" y2="559.10" stroke="#333" stroke-width="1.5" />
<line x1="466.20" y1="586.00" x2="484.00" y2="586.00" stroke="#3a3a3a" stroke-width="1.5" />
<rect x="0.55" y="0.55" width="518.9" height="651.9" fill="none" stroke="#000" stroke-width="1.1"/>
</svg>
</body></html>
